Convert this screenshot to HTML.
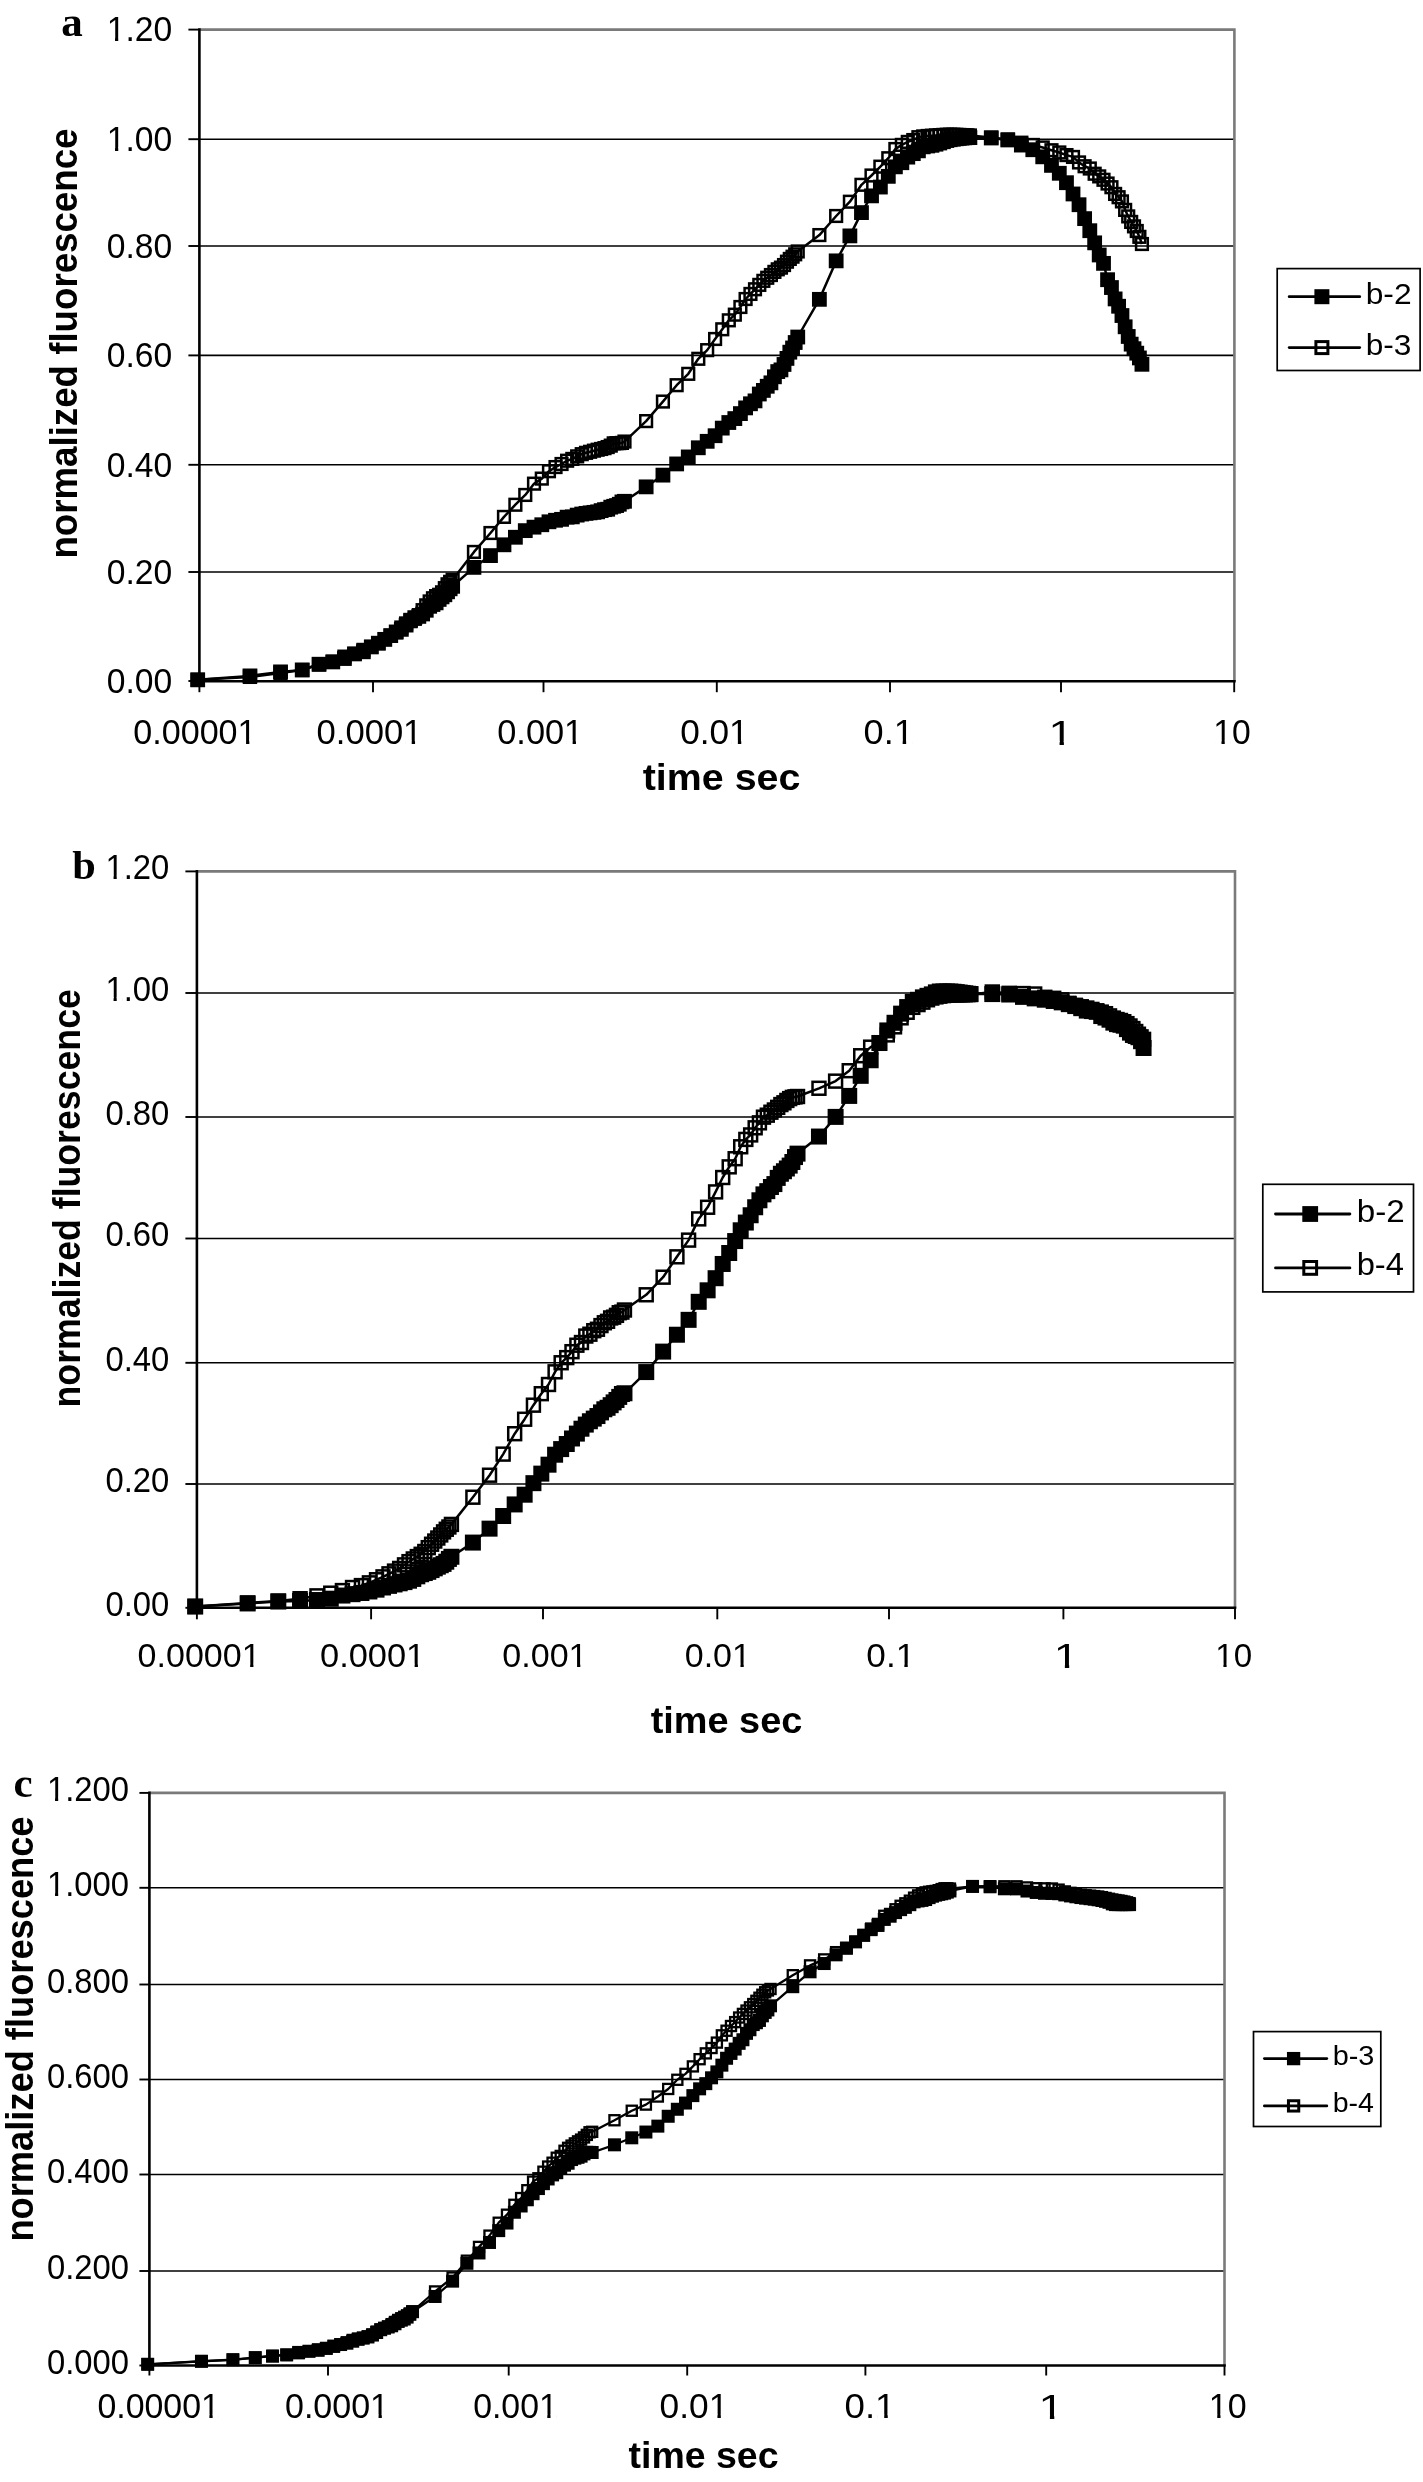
<!DOCTYPE html>
<html><head><meta charset="utf-8"><title>fluorescence</title><style>html,body{margin:0;padding:0;background:#fff;}svg{display:block;filter:grayscale(1);}</style></head><body>
<svg xmlns="http://www.w3.org/2000/svg" width="1423" height="2482" viewBox="0 0 1423 2482">
<rect x="0" y="0" width="1423" height="2482" fill="#fff"/>
<line x1="199.4" y1="572" x2="1234.4" y2="572" stroke="#000" stroke-width="1.6"/>
<line x1="199.4" y1="464.8" x2="1234.4" y2="464.8" stroke="#000" stroke-width="1.6"/>
<line x1="199.4" y1="355.4" x2="1234.4" y2="355.4" stroke="#000" stroke-width="1.6"/>
<line x1="199.4" y1="246" x2="1234.4" y2="246" stroke="#000" stroke-width="1.6"/>
<line x1="199.4" y1="139.2" x2="1234.4" y2="139.2" stroke="#000" stroke-width="1.6"/>
<path d="M199.4 29.6H1234.4V681.2" fill="none" stroke="#7a7a7a" stroke-width="2.6"/>
<line x1="188.4" y1="681" x2="199.4" y2="681" stroke="#000" stroke-width="1.9"/>
<line x1="188.4" y1="572" x2="199.4" y2="572" stroke="#000" stroke-width="1.9"/>
<line x1="188.4" y1="464.8" x2="199.4" y2="464.8" stroke="#000" stroke-width="1.9"/>
<line x1="188.4" y1="355.4" x2="199.4" y2="355.4" stroke="#000" stroke-width="1.9"/>
<line x1="188.4" y1="246" x2="199.4" y2="246" stroke="#000" stroke-width="1.9"/>
<line x1="188.4" y1="139.2" x2="199.4" y2="139.2" stroke="#000" stroke-width="1.9"/>
<line x1="188.4" y1="29.6" x2="199.4" y2="29.6" stroke="#000" stroke-width="1.9"/>
<line x1="199.4" y1="681.2" x2="199.4" y2="692.2" stroke="#000" stroke-width="1.9"/>
<line x1="373" y1="681.2" x2="373" y2="692.2" stroke="#000" stroke-width="1.9"/>
<line x1="543.5" y1="681.2" x2="543.5" y2="692.2" stroke="#000" stroke-width="1.9"/>
<line x1="716.8" y1="681.2" x2="716.8" y2="692.2" stroke="#000" stroke-width="1.9"/>
<line x1="890" y1="681.2" x2="890" y2="692.2" stroke="#000" stroke-width="1.9"/>
<line x1="1061" y1="681.2" x2="1061" y2="692.2" stroke="#000" stroke-width="1.9"/>
<line x1="1234.2" y1="681.2" x2="1234.2" y2="692.2" stroke="#000" stroke-width="1.9"/>
<line x1="199.4" y1="28.3" x2="199.4" y2="682.5" stroke="#000" stroke-width="2.6"/>
<line x1="198.1" y1="681.2" x2="1235.7" y2="681.2" stroke="#000" stroke-width="2.6"/>
<path d="M197.7 679.8 L250.0 675.9 L280.5 671.9 L302.2 669.9 L319.0 664.2 L332.8 661.9 L344.4 658.5 L354.5 653.9 L363.4 651.8 L371.3 646.9 L378.4 643.2 L384.8 639.4 L390.7 635.6 L396.2 631.9 L401.3 629.3 L406.1 625.1 L410.6 620.2 L414.8 617.6 L418.8 616.4 L422.6 614.0 L426.2 610.3 L429.7 606.3 L433.0 604.5 L436.1 602.9 L439.1 599.4 L442.1 596.9 L444.8 594.8 L447.5 591.8 L450.1 588.8 L452.6 586.3 L474.0 567.4 L490.5 555.6 L504.0 544.8 L515.4 537.3 L525.3 530.6 L534.0 527.2 L541.8 524.7 L549.0 521.8 L555.5 520.3 L561.5 519.3 L567.1 517.2 L572.3 516.9 L577.2 515.1 L581.7 514.0 L586.0 513.4 L590.1 512.9 L594.0 512.4 L597.6 511.8 L601.1 510.6 L604.5 509.7 L607.7 509.2 L610.8 507.2 L613.7 506.3 L616.6 505.6 L619.3 504.2 L621.9 501.9 L624.5 501.3 L646.1 486.9 L662.9 475.1 L676.7 463.9 L688.3 456.9 L698.3 447.8 L707.2 441.3 L715.1 435.7 L722.3 428.1 L728.8 422.5 L734.8 418.6 L740.4 413.6 L745.6 407.9 L750.5 403.8 L755.0 400.9 L759.3 394.0 L763.4 390.4 L767.2 386.3 L770.9 382.9 L774.4 376.8 L777.8 371.6 L781.0 369.9 L784.0 364.5 L787.0 358.4 L789.8 352.2 L792.5 348.0 L795.2 342.5 L797.7 337.0 L819.4 299.3 L836.2 260.9 L849.9 235.9 L861.5 212.6 L871.5 195.9 L880.4 187.1 L888.3 176.3 L895.4 166.8 L901.8 162.7 L907.8 157.1 L913.3 153.6 L918.4 150.8 L923.2 146.8 L927.7 146.0 L932.0 145.3 L936.0 144.2 L939.8 143.0 L943.4 141.7 L946.9 140.5 L950.2 139.7 L953.3 139.2 L956.3 138.8 L959.3 138.4 L962.1 138.0 L964.8 137.8 L967.4 137.7 L969.9 137.6 L991.3 138.0 L1007.8 140.0 L1021.4 145.1 L1032.8 149.7 L1042.7 156.8 L1051.5 165.4 L1059.3 173.3 L1066.5 182.7 L1073.0 194.0 L1079.0 204.7 L1084.6 218.6 L1089.8 230.7 L1094.7 242.8 L1099.2 255.0 L1103.5 263.4 L1107.6 279.7 L1111.4 287.5 L1115.1 298.9 L1118.6 306.2 L1122.0 315.5 L1125.2 326.8 L1128.2 336.5 L1131.2 344.1 L1134.0 348.7 L1136.7 353.2 L1139.4 357.9 L1141.9 364.3" fill="none" stroke="#000" stroke-width="2.5" stroke-linejoin="round"/>
<g fill="#000"><rect x="190.3" y="672.43" width="14.8" height="14.8"/><rect x="242.56" y="668.5" width="14.8" height="14.8"/><rect x="273.13" y="664.49" width="14.8" height="14.8"/><rect x="294.82" y="662.53" width="14.8" height="14.8"/><rect x="311.64" y="656.83" width="14.8" height="14.8"/><rect x="325.39" y="654.52" width="14.8" height="14.8"/><rect x="337.01" y="651.13" width="14.8" height="14.8"/><rect x="347.08" y="646.52" width="14.8" height="14.8"/><rect x="355.96" y="644.38" width="14.8" height="14.8"/><rect x="363.9" y="639.51" width="14.8" height="14.8"/><rect x="370.96" y="635.82" width="14.8" height="14.8"/><rect x="377.4" y="631.96" width="14.8" height="14.8"/><rect x="383.33" y="628.2" width="14.8" height="14.8"/><rect x="388.81" y="624.54" width="14.8" height="14.8"/><rect x="393.92" y="621.95" width="14.8" height="14.8"/><rect x="398.7" y="617.69" width="14.8" height="14.8"/><rect x="403.19" y="612.82" width="14.8" height="14.8"/><rect x="407.42" y="610.23" width="14.8" height="14.8"/><rect x="411.43" y="609" width="14.8" height="14.8"/><rect x="415.23" y="606.57" width="14.8" height="14.8"/><rect x="418.84" y="602.86" width="14.8" height="14.8"/><rect x="422.28" y="598.91" width="14.8" height="14.8"/><rect x="425.57" y="597.1" width="14.8" height="14.8"/><rect x="428.73" y="595.45" width="14.8" height="14.8"/><rect x="431.75" y="592.02" width="14.8" height="14.8"/><rect x="434.65" y="589.47" width="14.8" height="14.8"/><rect x="437.45" y="587.39" width="14.8" height="14.8"/><rect x="440.14" y="584.41" width="14.8" height="14.8"/><rect x="442.74" y="581.41" width="14.8" height="14.8"/><rect x="445.25" y="578.94" width="14.8" height="14.8"/><rect x="466.55" y="559.97" width="14.8" height="14.8"/><rect x="483.07" y="548.2" width="14.8" height="14.8"/><rect x="496.57" y="537.4" width="14.8" height="14.8"/><rect x="507.99" y="529.86" width="14.8" height="14.8"/><rect x="517.88" y="523.23" width="14.8" height="14.8"/><rect x="526.6" y="519.77" width="14.8" height="14.8"/><rect x="534.4" y="517.34" width="14.8" height="14.8"/><rect x="541.57" y="514.39" width="14.8" height="14.8"/><rect x="548.12" y="512.87" width="14.8" height="14.8"/><rect x="554.15" y="511.94" width="14.8" height="14.8"/><rect x="559.72" y="509.78" width="14.8" height="14.8"/><rect x="564.92" y="509.46" width="14.8" height="14.8"/><rect x="569.77" y="507.71" width="14.8" height="14.8"/><rect x="574.34" y="506.64" width="14.8" height="14.8"/><rect x="578.64" y="505.97" width="14.8" height="14.8"/><rect x="582.71" y="505.45" width="14.8" height="14.8"/><rect x="586.57" y="504.96" width="14.8" height="14.8"/><rect x="590.24" y="504.43" width="14.8" height="14.8"/><rect x="593.74" y="503.22" width="14.8" height="14.8"/><rect x="597.09" y="502.25" width="14.8" height="14.8"/><rect x="600.29" y="501.84" width="14.8" height="14.8"/><rect x="603.36" y="499.77" width="14.8" height="14.8"/><rect x="606.31" y="498.88" width="14.8" height="14.8"/><rect x="609.16" y="498.16" width="14.8" height="14.8"/><rect x="611.89" y="496.85" width="14.8" height="14.8"/><rect x="614.53" y="494.51" width="14.8" height="14.8"/><rect x="617.09" y="493.9" width="14.8" height="14.8"/><rect x="638.74" y="479.46" width="14.8" height="14.8"/><rect x="655.53" y="467.73" width="14.8" height="14.8"/><rect x="669.25" y="456.53" width="14.8" height="14.8"/><rect x="680.86" y="449.54" width="14.8" height="14.8"/><rect x="690.91" y="440.38" width="14.8" height="14.8"/><rect x="699.77" y="433.92" width="14.8" height="14.8"/><rect x="707.7" y="428.32" width="14.8" height="14.8"/><rect x="714.87" y="420.72" width="14.8" height="14.8"/><rect x="721.41" y="415.12" width="14.8" height="14.8"/><rect x="727.43" y="411.18" width="14.8" height="14.8"/><rect x="733.01" y="406.19" width="14.8" height="14.8"/><rect x="738.2" y="400.49" width="14.8" height="14.8"/><rect x="743.05" y="396.38" width="14.8" height="14.8"/><rect x="747.61" y="393.48" width="14.8" height="14.8"/><rect x="751.91" y="386.61" width="14.8" height="14.8"/><rect x="755.98" y="383.01" width="14.8" height="14.8"/><rect x="759.84" y="378.87" width="14.8" height="14.8"/><rect x="763.51" y="375.45" width="14.8" height="14.8"/><rect x="767.01" y="369.39" width="14.8" height="14.8"/><rect x="770.35" y="364.18" width="14.8" height="14.8"/><rect x="773.55" y="362.48" width="14.8" height="14.8"/><rect x="776.62" y="357.05" width="14.8" height="14.8"/><rect x="779.57" y="351" width="14.8" height="14.8"/><rect x="782.41" y="344.79" width="14.8" height="14.8"/><rect x="785.15" y="340.57" width="14.8" height="14.8"/><rect x="787.79" y="335.11" width="14.8" height="14.8"/><rect x="790.34" y="329.63" width="14.8" height="14.8"/><rect x="811.98" y="291.94" width="14.8" height="14.8"/><rect x="828.76" y="253.46" width="14.8" height="14.8"/><rect x="842.48" y="228.49" width="14.8" height="14.8"/><rect x="854.07" y="205.19" width="14.8" height="14.8"/><rect x="864.12" y="188.46" width="14.8" height="14.8"/><rect x="872.97" y="179.65" width="14.8" height="14.8"/><rect x="880.9" y="168.94" width="14.8" height="14.8"/><rect x="887.98" y="159.44" width="14.8" height="14.8"/><rect x="894.44" y="155.33" width="14.8" height="14.8"/><rect x="900.38" y="149.73" width="14.8" height="14.8"/><rect x="905.89" y="146.24" width="14.8" height="14.8"/><rect x="911.01" y="143.43" width="14.8" height="14.8"/><rect x="915.8" y="139.44" width="14.8" height="14.8"/><rect x="920.31" y="138.58" width="14.8" height="14.8"/><rect x="924.55" y="137.91" width="14.8" height="14.8"/><rect x="928.57" y="136.8" width="14.8" height="14.8"/><rect x="932.38" y="135.61" width="14.8" height="14.8"/><rect x="936" y="134.34" width="14.8" height="14.8"/><rect x="939.45" y="133.13" width="14.8" height="14.8"/><rect x="942.76" y="132.34" width="14.8" height="14.8"/><rect x="945.92" y="131.82" width="14.8" height="14.8"/><rect x="948.95" y="131.36" width="14.8" height="14.8"/><rect x="951.86" y="130.96" width="14.8" height="14.8"/><rect x="954.66" y="130.65" width="14.8" height="14.8"/><rect x="957.36" y="130.41" width="14.8" height="14.8"/><rect x="959.97" y="130.26" width="14.8" height="14.8"/><rect x="962.49" y="130.2" width="14.8" height="14.8"/><rect x="983.85" y="130.59" width="14.8" height="14.8"/><rect x="1000.42" y="132.55" width="14.8" height="14.8"/><rect x="1013.96" y="137.67" width="14.8" height="14.8"/><rect x="1025.41" y="142.33" width="14.8" height="14.8"/><rect x="1035.33" y="149.42" width="14.8" height="14.8"/><rect x="1044.08" y="157.97" width="14.8" height="14.8"/><rect x="1051.9" y="165.87" width="14.8" height="14.8"/><rect x="1059.07" y="175.3" width="14.8" height="14.8"/><rect x="1065.61" y="186.57" width="14.8" height="14.8"/><rect x="1071.63" y="197.33" width="14.8" height="14.8"/><rect x="1077.21" y="211.23" width="14.8" height="14.8"/><rect x="1082.4" y="223.3" width="14.8" height="14.8"/><rect x="1087.25" y="235.44" width="14.8" height="14.8"/><rect x="1091.81" y="247.57" width="14.8" height="14.8"/><rect x="1096.11" y="255.96" width="14.8" height="14.8"/><rect x="1100.18" y="272.31" width="14.8" height="14.8"/><rect x="1104.04" y="280.14" width="14.8" height="14.8"/><rect x="1107.71" y="291.52" width="14.8" height="14.8"/><rect x="1111.21" y="298.84" width="14.8" height="14.8"/><rect x="1114.55" y="308.13" width="14.8" height="14.8"/><rect x="1117.75" y="319.4" width="14.8" height="14.8"/><rect x="1120.82" y="329.07" width="14.8" height="14.8"/><rect x="1123.77" y="336.75" width="14.8" height="14.8"/><rect x="1126.61" y="341.31" width="14.8" height="14.8"/><rect x="1129.35" y="345.77" width="14.8" height="14.8"/><rect x="1131.99" y="350.54" width="14.8" height="14.8"/><rect x="1134.54" y="356.89" width="14.8" height="14.8"/></g>
<path d="M197.7 679.8 L250.0 676.9 L280.5 672.9 L302.2 670.0 L319.0 664.5 L332.8 661.7 L344.4 656.6 L354.5 653.8 L363.4 649.9 L371.3 646.9 L378.4 643.1 L384.8 639.1 L390.7 635.8 L396.2 632.4 L401.3 627.5 L406.1 623.4 L410.6 621.2 L414.8 618.8 L418.8 615.1 L422.6 610.2 L426.2 605.4 L429.7 601.4 L433.0 598.3 L436.1 596.1 L439.1 594.8 L442.1 592.3 L444.8 588.2 L447.5 584.3 L450.1 581.8 L452.6 579.8 L474.0 551.9 L490.5 533.0 L504.0 516.9 L515.4 504.7 L525.3 494.9 L534.0 483.7 L541.8 478.6 L549.0 471.2 L555.5 467.1 L561.5 464.0 L567.1 460.7 L572.3 458.9 L577.2 456.4 L581.7 454.2 L586.0 452.8 L590.1 451.8 L594.0 450.7 L597.6 449.7 L601.1 449.0 L604.5 448.2 L607.7 447.1 L610.8 445.6 L613.7 443.4 L616.6 443.2 L619.3 443.1 L621.9 442.9 L624.5 441.6 L646.1 421.1 L662.9 401.6 L676.7 385.2 L688.3 373.8 L698.3 358.8 L707.2 350.1 L715.1 339.0 L722.3 329.3 L728.8 320.3 L734.8 314.7 L740.4 307.0 L745.6 299.0 L750.5 293.9 L755.0 289.3 L759.3 284.9 L763.4 280.9 L767.2 277.8 L770.9 275.0 L774.4 271.9 L777.8 269.3 L781.0 267.6 L784.0 265.0 L787.0 261.7 L789.8 258.9 L792.5 256.7 L795.2 254.3 L797.7 251.5 L819.4 235.1 L836.2 216.0 L849.9 201.7 L861.5 184.8 L871.5 175.5 L880.4 166.7 L888.3 158.2 L895.4 149.0 L901.8 144.9 L907.8 141.9 L913.3 140.0 L918.4 137.2 L923.2 136.4 L927.7 136.0 L932.0 135.7 L936.0 135.4 L939.8 135.1 L943.4 134.9 L946.9 134.7 L950.2 134.7 L953.3 134.7 L956.3 134.8 L959.3 134.9 L962.1 135.1 L964.8 135.2 L967.4 135.3 L969.9 135.5 L991.3 137.5 L1007.8 139.5 L1021.4 142.7 L1032.8 144.9 L1042.7 147.5 L1051.5 150.2 L1059.3 152.5 L1066.5 155.1 L1073.0 156.9 L1079.0 162.4 L1084.6 166.2 L1089.8 168.5 L1094.7 173.7 L1099.2 176.4 L1103.5 179.8 L1107.6 183.5 L1111.4 187.2 L1115.1 193.9 L1118.6 197.2 L1122.0 201.4 L1125.2 209.9 L1128.2 216.4 L1131.2 221.9 L1134.0 226.4 L1136.7 231.0 L1139.4 236.8 L1141.9 244.0" fill="none" stroke="#000" stroke-width="2.5" stroke-linejoin="round"/>
<g fill="none" stroke="#000" stroke-width="2.5"><rect x="191.85" y="673.95" width="11.7" height="11.7"/><rect x="244.11" y="671.07" width="11.7" height="11.7"/><rect x="274.68" y="667.02" width="11.7" height="11.7"/><rect x="296.37" y="664.19" width="11.7" height="11.7"/><rect x="313.19" y="658.7" width="11.7" height="11.7"/><rect x="326.94" y="655.85" width="11.7" height="11.7"/><rect x="338.56" y="650.78" width="11.7" height="11.7"/><rect x="348.63" y="647.98" width="11.7" height="11.7"/><rect x="357.51" y="644.03" width="11.7" height="11.7"/><rect x="365.45" y="641.06" width="11.7" height="11.7"/><rect x="372.51" y="637.24" width="11.7" height="11.7"/><rect x="378.95" y="633.28" width="11.7" height="11.7"/><rect x="384.88" y="629.98" width="11.7" height="11.7"/><rect x="390.36" y="626.51" width="11.7" height="11.7"/><rect x="395.47" y="621.65" width="11.7" height="11.7"/><rect x="400.25" y="617.57" width="11.7" height="11.7"/><rect x="404.74" y="615.33" width="11.7" height="11.7"/><rect x="408.97" y="612.98" width="11.7" height="11.7"/><rect x="412.98" y="609.28" width="11.7" height="11.7"/><rect x="416.78" y="604.33" width="11.7" height="11.7"/><rect x="420.39" y="599.5" width="11.7" height="11.7"/><rect x="423.83" y="595.59" width="11.7" height="11.7"/><rect x="427.12" y="592.41" width="11.7" height="11.7"/><rect x="430.28" y="590.24" width="11.7" height="11.7"/><rect x="433.3" y="588.93" width="11.7" height="11.7"/><rect x="436.2" y="586.48" width="11.7" height="11.7"/><rect x="439" y="582.31" width="11.7" height="11.7"/><rect x="441.69" y="578.45" width="11.7" height="11.7"/><rect x="444.29" y="575.97" width="11.7" height="11.7"/><rect x="446.8" y="573.91" width="11.7" height="11.7"/><rect x="468.1" y="546.07" width="11.7" height="11.7"/><rect x="484.62" y="527.16" width="11.7" height="11.7"/><rect x="498.12" y="511.04" width="11.7" height="11.7"/><rect x="509.54" y="498.89" width="11.7" height="11.7"/><rect x="519.43" y="489.1" width="11.7" height="11.7"/><rect x="528.15" y="477.81" width="11.7" height="11.7"/><rect x="535.95" y="472.75" width="11.7" height="11.7"/><rect x="543.12" y="465.37" width="11.7" height="11.7"/><rect x="549.67" y="461.21" width="11.7" height="11.7"/><rect x="555.7" y="458.15" width="11.7" height="11.7"/><rect x="561.27" y="454.87" width="11.7" height="11.7"/><rect x="566.47" y="453.06" width="11.7" height="11.7"/><rect x="571.32" y="450.52" width="11.7" height="11.7"/><rect x="575.89" y="448.32" width="11.7" height="11.7"/><rect x="580.19" y="446.98" width="11.7" height="11.7"/><rect x="584.26" y="445.93" width="11.7" height="11.7"/><rect x="588.12" y="444.83" width="11.7" height="11.7"/><rect x="591.79" y="443.87" width="11.7" height="11.7"/><rect x="595.29" y="443.12" width="11.7" height="11.7"/><rect x="598.64" y="442.3" width="11.7" height="11.7"/><rect x="601.84" y="441.21" width="11.7" height="11.7"/><rect x="604.91" y="439.78" width="11.7" height="11.7"/><rect x="607.86" y="437.51" width="11.7" height="11.7"/><rect x="610.71" y="437.32" width="11.7" height="11.7"/><rect x="613.44" y="437.26" width="11.7" height="11.7"/><rect x="616.08" y="437.06" width="11.7" height="11.7"/><rect x="618.64" y="435.71" width="11.7" height="11.7"/><rect x="640.29" y="415.26" width="11.7" height="11.7"/><rect x="657.08" y="395.71" width="11.7" height="11.7"/><rect x="670.8" y="379.35" width="11.7" height="11.7"/><rect x="682.41" y="367.99" width="11.7" height="11.7"/><rect x="692.46" y="352.94" width="11.7" height="11.7"/><rect x="701.32" y="344.29" width="11.7" height="11.7"/><rect x="709.25" y="333.13" width="11.7" height="11.7"/><rect x="716.42" y="323.44" width="11.7" height="11.7"/><rect x="722.96" y="314.47" width="11.7" height="11.7"/><rect x="728.98" y="308.82" width="11.7" height="11.7"/><rect x="734.56" y="301.14" width="11.7" height="11.7"/><rect x="739.75" y="293.16" width="11.7" height="11.7"/><rect x="744.6" y="288.09" width="11.7" height="11.7"/><rect x="749.16" y="283.41" width="11.7" height="11.7"/><rect x="753.46" y="279.03" width="11.7" height="11.7"/><rect x="757.53" y="275" width="11.7" height="11.7"/><rect x="761.39" y="271.91" width="11.7" height="11.7"/><rect x="765.06" y="269.19" width="11.7" height="11.7"/><rect x="768.56" y="266.03" width="11.7" height="11.7"/><rect x="771.9" y="263.47" width="11.7" height="11.7"/><rect x="775.1" y="261.78" width="11.7" height="11.7"/><rect x="778.17" y="259.19" width="11.7" height="11.7"/><rect x="781.12" y="255.85" width="11.7" height="11.7"/><rect x="783.96" y="253.07" width="11.7" height="11.7"/><rect x="786.7" y="250.83" width="11.7" height="11.7"/><rect x="789.34" y="248.46" width="11.7" height="11.7"/><rect x="791.89" y="245.62" width="11.7" height="11.7"/><rect x="813.53" y="229.22" width="11.7" height="11.7"/><rect x="830.31" y="210.13" width="11.7" height="11.7"/><rect x="844.03" y="195.87" width="11.7" height="11.7"/><rect x="855.62" y="178.95" width="11.7" height="11.7"/><rect x="865.67" y="169.65" width="11.7" height="11.7"/><rect x="874.52" y="160.8" width="11.7" height="11.7"/><rect x="882.45" y="152.39" width="11.7" height="11.7"/><rect x="889.53" y="143.16" width="11.7" height="11.7"/><rect x="895.99" y="139.03" width="11.7" height="11.7"/><rect x="901.93" y="136.06" width="11.7" height="11.7"/><rect x="907.44" y="134.19" width="11.7" height="11.7"/><rect x="912.56" y="131.35" width="11.7" height="11.7"/><rect x="917.35" y="130.54" width="11.7" height="11.7"/><rect x="921.86" y="130.13" width="11.7" height="11.7"/><rect x="926.1" y="129.85" width="11.7" height="11.7"/><rect x="930.12" y="129.58" width="11.7" height="11.7"/><rect x="933.93" y="129.29" width="11.7" height="11.7"/><rect x="937.55" y="129.05" width="11.7" height="11.7"/><rect x="941" y="128.89" width="11.7" height="11.7"/><rect x="944.31" y="128.85" width="11.7" height="11.7"/><rect x="947.47" y="128.89" width="11.7" height="11.7"/><rect x="950.5" y="128.97" width="11.7" height="11.7"/><rect x="953.41" y="129.08" width="11.7" height="11.7"/><rect x="956.21" y="129.21" width="11.7" height="11.7"/><rect x="958.91" y="129.34" width="11.7" height="11.7"/><rect x="961.52" y="129.48" width="11.7" height="11.7"/><rect x="964.04" y="129.62" width="11.7" height="11.7"/><rect x="985.4" y="131.66" width="11.7" height="11.7"/><rect x="1001.97" y="133.61" width="11.7" height="11.7"/><rect x="1015.51" y="136.84" width="11.7" height="11.7"/><rect x="1026.96" y="139.09" width="11.7" height="11.7"/><rect x="1036.88" y="141.61" width="11.7" height="11.7"/><rect x="1045.63" y="144.39" width="11.7" height="11.7"/><rect x="1053.45" y="146.62" width="11.7" height="11.7"/><rect x="1060.62" y="149.23" width="11.7" height="11.7"/><rect x="1067.16" y="151.09" width="11.7" height="11.7"/><rect x="1073.18" y="156.59" width="11.7" height="11.7"/><rect x="1078.76" y="160.39" width="11.7" height="11.7"/><rect x="1083.95" y="162.66" width="11.7" height="11.7"/><rect x="1088.8" y="167.88" width="11.7" height="11.7"/><rect x="1093.36" y="170.54" width="11.7" height="11.7"/><rect x="1097.66" y="173.92" width="11.7" height="11.7"/><rect x="1101.73" y="177.68" width="11.7" height="11.7"/><rect x="1105.59" y="181.37" width="11.7" height="11.7"/><rect x="1109.26" y="188.07" width="11.7" height="11.7"/><rect x="1112.76" y="191.36" width="11.7" height="11.7"/><rect x="1116.1" y="195.56" width="11.7" height="11.7"/><rect x="1119.3" y="204.05" width="11.7" height="11.7"/><rect x="1122.37" y="210.55" width="11.7" height="11.7"/><rect x="1125.32" y="216.06" width="11.7" height="11.7"/><rect x="1128.16" y="220.52" width="11.7" height="11.7"/><rect x="1130.9" y="225.14" width="11.7" height="11.7"/><rect x="1133.54" y="230.98" width="11.7" height="11.7"/><rect x="1136.09" y="238.16" width="11.7" height="11.7"/></g>
<g transform="translate(106.68 692.77) scale(33.6694 34.1804)"><text x="0" y="0" font-family='"Liberation Sans", sans-serif' font-weight="normal" font-size="1" style="font-kerning:none">0.00</text></g>
<g transform="translate(106.68 583.77) scale(33.6694 34.1804)"><text x="0" y="0" font-family='"Liberation Sans", sans-serif' font-weight="normal" font-size="1" style="font-kerning:none">0.20</text></g>
<g transform="translate(106.68 476.57) scale(33.6694 34.1804)"><text x="0" y="0" font-family='"Liberation Sans", sans-serif' font-weight="normal" font-size="1" style="font-kerning:none">0.40</text></g>
<g transform="translate(106.68 367.17) scale(33.6694 34.1804)"><text x="0" y="0" font-family='"Liberation Sans", sans-serif' font-weight="normal" font-size="1" style="font-kerning:none">0.60</text></g>
<g transform="translate(106.68 257.77) scale(33.6694 34.1804)"><text x="0" y="0" font-family='"Liberation Sans", sans-serif' font-weight="normal" font-size="1" style="font-kerning:none">0.80</text></g>
<g transform="translate(106.68 150.97) scale(33.6694 34.1804)"><text x="0" y="0" font-family='"Liberation Sans", sans-serif' font-weight="normal" font-size="1" style="font-kerning:none">1.00</text><rect x="0.0562" y="-0.1050" width="0.1913" height="0.1300" fill="#fff"/><rect x="0.3438" y="-0.1050" width="0.1835" height="0.1300" fill="#fff"/></g>
<g transform="translate(106.68 41.37) scale(33.6694 34.1804)"><text x="0" y="0" font-family='"Liberation Sans", sans-serif' font-weight="normal" font-size="1" style="font-kerning:none">1.20</text><rect x="0.0562" y="-0.1050" width="0.1913" height="0.1300" fill="#fff"/><rect x="0.3438" y="-0.1050" width="0.1835" height="0.1300" fill="#fff"/></g>
<g transform="translate(133.27 744.16) scale(34.1135 34.6041)"><text x="0" y="0" font-family='"Liberation Sans", sans-serif' font-weight="normal" font-size="1" style="font-kerning:none">0.00001</text><rect x="3.1148" y="-0.1050" width="0.1913" height="0.1300" fill="#fff"/><rect x="3.4024" y="-0.1050" width="0.1835" height="0.1300" fill="#fff"/></g>
<g transform="translate(316.55 744.16) scale(34.6030 34.6041)"><text x="0" y="0" font-family='"Liberation Sans", sans-serif' font-weight="normal" font-size="1" style="font-kerning:none">0.0001</text><rect x="2.5586" y="-0.1050" width="0.1913" height="0.1300" fill="#fff"/><rect x="2.8463" y="-0.1050" width="0.1835" height="0.1300" fill="#fff"/></g>
<g transform="translate(497.26 744.16) scale(34.3558 34.6041)"><text x="0" y="0" font-family='"Liberation Sans", sans-serif' font-weight="normal" font-size="1" style="font-kerning:none">0.001</text><rect x="2.0025" y="-0.1050" width="0.1913" height="0.1300" fill="#fff"/><rect x="2.2901" y="-0.1050" width="0.1835" height="0.1300" fill="#fff"/></g>
<g transform="translate(680.23 744.16) scale(35.1880 34.6041)"><text x="0" y="0" font-family='"Liberation Sans", sans-serif' font-weight="normal" font-size="1" style="font-kerning:none">0.01</text><rect x="1.4463" y="-0.1050" width="0.1913" height="0.1300" fill="#fff"/><rect x="1.7340" y="-0.1050" width="0.1835" height="0.1300" fill="#fff"/></g>
<g transform="translate(863.59 744.16) scale(36.1308 34.6041)"><text x="0" y="0" font-family='"Liberation Sans", sans-serif' font-weight="normal" font-size="1" style="font-kerning:none">0.1</text><rect x="0.8902" y="-0.1050" width="0.1913" height="0.1300" fill="#fff"/><rect x="1.1778" y="-0.1050" width="0.1835" height="0.1300" fill="#fff"/></g>
<g transform="translate(1048.5 744.5) scale(44.7359 35.6111)"><text x="0" y="0" font-family='"Liberation Sans", sans-serif' font-weight="normal" font-size="1" style="font-kerning:none">1</text><rect x="0.0562" y="-0.1050" width="0.1913" height="0.1300" fill="#fff"/><rect x="0.3438" y="-0.1050" width="0.1835" height="0.1300" fill="#fff"/></g>
<g transform="translate(1213.16 744.16) scale(33.6728 34.6041)"><text x="0" y="0" font-family='"Liberation Sans", sans-serif' font-weight="normal" font-size="1" style="font-kerning:none">10</text><rect x="0.0562" y="-0.1050" width="0.1913" height="0.1300" fill="#fff"/><rect x="0.3438" y="-0.1050" width="0.1835" height="0.1300" fill="#fff"/></g>
<g transform="translate(642.72 790.24) scale(39.3846 37.3106)"><text x="0" y="0" font-family='"Liberation Sans", sans-serif' font-weight="bold" font-size="1" style="font-kerning:none">time sec</text></g>
<g transform="translate(77.13 558.62) rotate(-90) scale(36.6851 38.1277)"><text x="0" y="0" font-family='"Liberation Sans", sans-serif' font-weight="bold" font-size="1" style="font-kerning:none">normalized fluorescence</text></g>
<g transform="translate(61.21 35.99) scale(43.0809 41.9621)"><text x="0" y="0" font-family='"Liberation Serif", serif' font-weight="bold" font-size="1" style="font-kerning:none">a</text></g>
<rect x="1277.2" y="268.6" width="142.9" height="101.9" fill="#fff" stroke="#000" stroke-width="1.7"/>
<line x1="1289.2" y1="296.7" x2="1359.7" y2="296.7" stroke="#000" stroke-width="2.8" stroke-linecap="round"/>
<g fill="#000"><rect x="1314.4" y="289.2" width="15" height="15"/></g>
<g transform="translate(1365.65 303.81) scale(31.7910 29.6851)"><text x="0" y="0" font-family='"Liberation Sans", sans-serif' font-weight="normal" font-size="1" style="font-kerning:none">b-2</text></g>
<line x1="1289.2" y1="347.6" x2="1359.7" y2="347.6" stroke="#000" stroke-width="2.8" stroke-linecap="round"/>
<g fill="none" stroke="#000" stroke-width="3"><rect x="1315.9" y="341.6" width="12" height="12"/></g>
<g transform="translate(1365.66 354.71) scale(31.6400 29.5489)"><text x="0" y="0" font-family='"Liberation Sans", sans-serif' font-weight="normal" font-size="1" style="font-kerning:none">b-3</text></g>
<line x1="196.9" y1="1484" x2="1235" y2="1484" stroke="#000" stroke-width="1.6"/>
<line x1="196.9" y1="1362.8" x2="1235" y2="1362.8" stroke="#000" stroke-width="1.6"/>
<line x1="196.9" y1="1238.5" x2="1235" y2="1238.5" stroke="#000" stroke-width="1.6"/>
<line x1="196.9" y1="1117" x2="1235" y2="1117" stroke="#000" stroke-width="1.6"/>
<line x1="196.9" y1="993" x2="1235" y2="993" stroke="#000" stroke-width="1.6"/>
<path d="M196.9 871.4H1235V1607.8" fill="none" stroke="#7a7a7a" stroke-width="2.6"/>
<line x1="185.4" y1="1607.8" x2="196.9" y2="1607.8" stroke="#000" stroke-width="1.9"/>
<line x1="185.4" y1="1484" x2="196.9" y2="1484" stroke="#000" stroke-width="1.9"/>
<line x1="185.4" y1="1362.8" x2="196.9" y2="1362.8" stroke="#000" stroke-width="1.9"/>
<line x1="185.4" y1="1238.5" x2="196.9" y2="1238.5" stroke="#000" stroke-width="1.9"/>
<line x1="185.4" y1="1117" x2="196.9" y2="1117" stroke="#000" stroke-width="1.9"/>
<line x1="185.4" y1="993" x2="196.9" y2="993" stroke="#000" stroke-width="1.9"/>
<line x1="185.4" y1="871.4" x2="196.9" y2="871.4" stroke="#000" stroke-width="1.9"/>
<line x1="196.9" y1="1607.8" x2="196.9" y2="1619.3" stroke="#000" stroke-width="1.9"/>
<line x1="371.1" y1="1607.8" x2="371.1" y2="1619.3" stroke="#000" stroke-width="1.9"/>
<line x1="543" y1="1607.8" x2="543" y2="1619.3" stroke="#000" stroke-width="1.9"/>
<line x1="717.3" y1="1607.8" x2="717.3" y2="1619.3" stroke="#000" stroke-width="1.9"/>
<line x1="889" y1="1607.8" x2="889" y2="1619.3" stroke="#000" stroke-width="1.9"/>
<line x1="1063.4" y1="1607.8" x2="1063.4" y2="1619.3" stroke="#000" stroke-width="1.9"/>
<line x1="1235" y1="1607.8" x2="1235" y2="1619.3" stroke="#000" stroke-width="1.9"/>
<line x1="196.9" y1="870.1" x2="196.9" y2="1609.1" stroke="#000" stroke-width="2.6"/>
<line x1="195.6" y1="1607.8" x2="1236.3" y2="1607.8" stroke="#000" stroke-width="2.6"/>
<path d="M195.2 1606.5 L247.6 1603.4 L278.3 1601.5 L300.1 1600.9 L317.0 1600.0 L330.8 1598.7 L342.4 1595.6 L352.5 1594.2 L361.4 1593.0 L369.4 1591.5 L376.5 1589.7 L383.0 1587.5 L389.0 1585.9 L394.5 1584.5 L399.7 1583.3 L404.5 1582.1 L409.0 1580.7 L413.3 1578.9 L417.3 1576.3 L421.1 1574.2 L424.8 1573.0 L428.3 1571.8 L431.6 1570.1 L434.8 1568.3 L437.8 1566.7 L440.7 1565.2 L443.6 1563.9 L446.3 1561.7 L448.9 1558.9 L451.4 1556.8 L472.9 1542.6 L489.6 1528.6 L503.2 1516.0 L514.7 1504.4 L524.6 1494.7 L533.4 1483.2 L541.3 1473.6 L548.5 1464.7 L555.1 1454.7 L561.2 1449.1 L566.8 1444.0 L572.0 1438.5 L576.9 1433.6 L581.5 1428.7 L585.8 1424.6 L589.9 1421.3 L593.8 1418.6 L597.5 1416.0 L601.0 1412.4 L604.3 1409.3 L607.6 1407.8 L610.7 1405.2 L613.6 1402.4 L616.5 1400.0 L619.2 1396.9 L621.9 1394.0 L624.5 1393.3 L646.2 1372.1 L663.1 1351.6 L676.9 1334.7 L688.6 1319.8 L698.7 1301.8 L707.6 1290.3 L715.6 1278.2 L722.7 1264.0 L729.2 1253.0 L735.2 1241.1 L740.7 1230.3 L745.8 1222.5 L750.6 1215.2 L755.2 1207.2 L759.4 1200.3 L763.5 1194.4 L767.3 1191.1 L770.9 1187.0 L774.4 1184.1 L777.7 1177.9 L780.9 1173.8 L783.9 1171.2 L786.9 1168.5 L789.7 1165.6 L792.4 1162.0 L795.0 1157.1 L797.5 1153.6 L819.0 1136.5 L835.6 1116.9 L849.2 1095.9 L860.7 1075.8 L870.7 1060.3 L879.4 1043.0 L887.3 1030.4 L894.5 1022.8 L901.1 1013.6 L907.2 1007.1 L912.8 1001.9 L918.0 999.8 L922.9 997.4 L927.5 995.8 L931.8 994.4 L935.9 992.4 L939.8 991.5 L943.5 991.5 L947.0 991.5 L950.4 991.5 L953.6 991.8 L956.7 992.1 L959.7 992.6 L962.5 992.9 L965.3 993.3 L967.9 993.8 L970.5 994.0 L992.3 994.1 L1009.2 994.5 L1023.0 996.9 L1034.7 998.4 L1044.8 999.7 L1053.7 1001.0 L1061.7 1002.4 L1068.8 1004.2 L1075.3 1006.1 L1081.3 1008.2 L1086.8 1010.6 L1091.9 1011.1 L1096.7 1011.8 L1101.2 1016.1 L1105.5 1017.6 L1109.5 1019.7 L1113.4 1022.6 L1117.0 1024.1 L1120.5 1024.8 L1123.8 1025.7 L1126.9 1029.1 L1130.0 1032.6 L1132.9 1035.0 L1135.7 1036.0 L1138.4 1037.2 L1141.0 1041.2 L1143.6 1048.0" fill="none" stroke="#000" stroke-width="2.5" stroke-linejoin="round"/>
<g fill="#000"><rect x="187.2" y="1598.48" width="16" height="16"/><rect x="239.64" y="1595.45" width="16" height="16"/><rect x="270.31" y="1593.52" width="16" height="16"/><rect x="292.08" y="1592.9" width="16" height="16"/><rect x="308.96" y="1592.03" width="16" height="16"/><rect x="322.75" y="1590.7" width="16" height="16"/><rect x="334.42" y="1587.55" width="16" height="16"/><rect x="344.52" y="1586.18" width="16" height="16"/><rect x="353.43" y="1585.01" width="16" height="16"/><rect x="361.4" y="1583.46" width="16" height="16"/><rect x="368.52" y="1581.66" width="16" height="16"/><rect x="375.01" y="1579.5" width="16" height="16"/><rect x="380.99" y="1577.87" width="16" height="16"/><rect x="386.52" y="1576.47" width="16" height="16"/><rect x="391.67" y="1575.3" width="16" height="16"/><rect x="396.49" y="1574.1" width="16" height="16"/><rect x="401.01" y="1572.7" width="16" height="16"/><rect x="405.28" y="1570.92" width="16" height="16"/><rect x="409.32" y="1568.32" width="16" height="16"/><rect x="413.15" y="1566.23" width="16" height="16"/><rect x="416.79" y="1565.04" width="16" height="16"/><rect x="420.26" y="1563.83" width="16" height="16"/><rect x="423.58" y="1562.08" width="16" height="16"/><rect x="426.76" y="1560.34" width="16" height="16"/><rect x="429.81" y="1558.68" width="16" height="16"/><rect x="432.73" y="1557.24" width="16" height="16"/><rect x="435.55" y="1555.89" width="16" height="16"/><rect x="438.27" y="1553.71" width="16" height="16"/><rect x="440.89" y="1550.92" width="16" height="16"/><rect x="443.42" y="1548.76" width="16" height="16"/><rect x="464.89" y="1534.58" width="16" height="16"/><rect x="481.55" y="1520.65" width="16" height="16"/><rect x="495.16" y="1508.01" width="16" height="16"/><rect x="506.67" y="1496.43" width="16" height="16"/><rect x="516.64" y="1486.7" width="16" height="16"/><rect x="525.43" y="1475.16" width="16" height="16"/><rect x="533.3" y="1465.63" width="16" height="16"/><rect x="540.51" y="1456.68" width="16" height="16"/><rect x="547.1" y="1446.71" width="16" height="16"/><rect x="553.16" y="1441.09" width="16" height="16"/><rect x="558.77" y="1436.01" width="16" height="16"/><rect x="563.99" y="1430.49" width="16" height="16"/><rect x="568.88" y="1425.61" width="16" height="16"/><rect x="573.47" y="1420.71" width="16" height="16"/><rect x="577.79" y="1416.59" width="16" height="16"/><rect x="581.89" y="1413.26" width="16" height="16"/><rect x="585.77" y="1410.62" width="16" height="16"/><rect x="589.46" y="1408.04" width="16" height="16"/><rect x="592.98" y="1404.42" width="16" height="16"/><rect x="596.35" y="1401.29" width="16" height="16"/><rect x="599.57" y="1399.79" width="16" height="16"/><rect x="602.66" y="1397.17" width="16" height="16"/><rect x="605.63" y="1394.39" width="16" height="16"/><rect x="608.49" y="1391.97" width="16" height="16"/><rect x="611.24" y="1388.9" width="16" height="16"/><rect x="613.9" y="1385.98" width="16" height="16"/><rect x="616.46" y="1385.27" width="16" height="16"/><rect x="638.24" y="1364.08" width="16" height="16"/><rect x="655.13" y="1343.61" width="16" height="16"/><rect x="668.93" y="1326.73" width="16" height="16"/><rect x="680.6" y="1311.84" width="16" height="16"/><rect x="690.71" y="1293.82" width="16" height="16"/><rect x="699.62" y="1282.32" width="16" height="16"/><rect x="707.6" y="1270.21" width="16" height="16"/><rect x="714.71" y="1255.96" width="16" height="16"/><rect x="721.2" y="1245.01" width="16" height="16"/><rect x="727.16" y="1233.06" width="16" height="16"/><rect x="732.69" y="1222.3" width="16" height="16"/><rect x="737.83" y="1214.55" width="16" height="16"/><rect x="742.65" y="1207.25" width="16" height="16"/><rect x="747.17" y="1199.24" width="16" height="16"/><rect x="751.43" y="1192.28" width="16" height="16"/><rect x="755.46" y="1186.38" width="16" height="16"/><rect x="759.29" y="1183.14" width="16" height="16"/><rect x="762.93" y="1179" width="16" height="16"/><rect x="766.39" y="1176.09" width="16" height="16"/><rect x="769.71" y="1169.89" width="16" height="16"/><rect x="772.88" y="1165.76" width="16" height="16"/><rect x="775.93" y="1163.24" width="16" height="16"/><rect x="778.85" y="1160.5" width="16" height="16"/><rect x="781.67" y="1157.61" width="16" height="16"/><rect x="784.38" y="1154.01" width="16" height="16"/><rect x="786.99" y="1149.06" width="16" height="16"/><rect x="789.52" y="1145.64" width="16" height="16"/><rect x="810.97" y="1128.54" width="16" height="16"/><rect x="827.61" y="1108.89" width="16" height="16"/><rect x="841.21" y="1087.91" width="16" height="16"/><rect x="852.7" y="1067.83" width="16" height="16"/><rect x="862.66" y="1052.25" width="16" height="16"/><rect x="871.44" y="1035.02" width="16" height="16"/><rect x="879.3" y="1022.44" width="16" height="16"/><rect x="886.52" y="1014.78" width="16" height="16"/><rect x="893.11" y="1005.64" width="16" height="16"/><rect x="899.17" y="999.07" width="16" height="16"/><rect x="904.78" y="993.91" width="16" height="16"/><rect x="910.01" y="991.79" width="16" height="16"/><rect x="914.9" y="989.36" width="16" height="16"/><rect x="919.49" y="987.82" width="16" height="16"/><rect x="923.82" y="986.38" width="16" height="16"/><rect x="927.91" y="984.37" width="16" height="16"/><rect x="931.8" y="983.5" width="16" height="16"/><rect x="935.5" y="983.5" width="16" height="16"/><rect x="939.02" y="983.5" width="16" height="16"/><rect x="942.39" y="983.53" width="16" height="16"/><rect x="945.61" y="983.76" width="16" height="16"/><rect x="948.7" y="984.14" width="16" height="16"/><rect x="951.67" y="984.56" width="16" height="16"/><rect x="954.53" y="984.94" width="16" height="16"/><rect x="957.28" y="985.34" width="16" height="16"/><rect x="959.94" y="985.76" width="16" height="16"/><rect x="962.51" y="985.99" width="16" height="16"/><rect x="984.3" y="986.09" width="16" height="16"/><rect x="1001.2" y="986.52" width="16" height="16"/><rect x="1015.01" y="988.88" width="16" height="16"/><rect x="1026.69" y="990.38" width="16" height="16"/><rect x="1036.8" y="991.71" width="16" height="16"/><rect x="1045.72" y="992.98" width="16" height="16"/><rect x="1053.7" y="994.36" width="16" height="16"/><rect x="1060.8" y="996.16" width="16" height="16"/><rect x="1067.29" y="998.07" width="16" height="16"/><rect x="1073.25" y="1000.16" width="16" height="16"/><rect x="1078.78" y="1002.59" width="16" height="16"/><rect x="1083.92" y="1003.09" width="16" height="16"/><rect x="1088.73" y="1003.83" width="16" height="16"/><rect x="1093.25" y="1008.05" width="16" height="16"/><rect x="1097.5" y="1009.58" width="16" height="16"/><rect x="1101.53" y="1011.7" width="16" height="16"/><rect x="1105.36" y="1014.63" width="16" height="16"/><rect x="1108.99" y="1016.14" width="16" height="16"/><rect x="1112.46" y="1016.75" width="16" height="16"/><rect x="1115.77" y="1017.68" width="16" height="16"/><rect x="1118.94" y="1021.13" width="16" height="16"/><rect x="1121.99" y="1024.64" width="16" height="16"/><rect x="1124.91" y="1026.96" width="16" height="16"/><rect x="1127.72" y="1027.99" width="16" height="16"/><rect x="1130.43" y="1029.21" width="16" height="16"/><rect x="1133.05" y="1033.18" width="16" height="16"/><rect x="1135.57" y="1039.99" width="16" height="16"/></g>
<path d="M195.2 1606.5 L247.6 1602.9 L278.3 1601.0 L300.1 1598.7 L317.0 1595.8 L330.8 1593.2 L342.4 1590.6 L352.5 1587.5 L361.4 1585.6 L369.4 1582.8 L376.5 1579.7 L383.0 1576.8 L389.0 1573.8 L394.5 1571.1 L399.7 1568.4 L404.5 1564.8 L409.0 1561.7 L413.3 1558.9 L417.3 1556.6 L421.1 1554.3 L424.8 1551.5 L428.3 1547.7 L431.6 1544.2 L434.8 1541.0 L437.8 1538.0 L440.7 1534.9 L443.6 1531.9 L446.3 1529.3 L448.9 1527.0 L451.4 1524.4 L472.9 1497.2 L489.6 1475.2 L503.2 1454.1 L514.7 1433.7 L524.6 1419.2 L533.4 1405.2 L541.3 1393.7 L548.5 1384.5 L555.1 1371.8 L561.2 1362.8 L566.8 1357.6 L572.0 1351.7 L576.9 1345.2 L581.5 1342.5 L585.8 1336.1 L589.9 1334.2 L593.8 1330.7 L597.5 1329.3 L601.0 1325.6 L604.3 1322.8 L607.6 1321.3 L610.7 1317.9 L613.6 1317.2 L616.5 1315.3 L619.2 1312.7 L621.9 1312.1 L624.5 1310.0 L646.2 1294.8 L663.1 1277.2 L676.9 1256.8 L688.6 1240.1 L698.7 1218.9 L707.6 1207.3 L715.6 1191.9 L722.7 1177.5 L729.2 1166.9 L735.2 1158.7 L740.7 1146.8 L745.8 1139.4 L750.6 1134.9 L755.2 1127.8 L759.4 1122.8 L763.5 1117.2 L767.3 1115.2 L770.9 1112.2 L774.4 1110.0 L777.7 1107.3 L780.9 1104.6 L783.9 1102.8 L786.9 1100.4 L789.7 1098.6 L792.4 1097.4 L795.0 1096.9 L797.5 1096.5 L819.0 1088.3 L835.6 1081.1 L849.2 1070.7 L860.7 1055.7 L870.7 1047.1 L879.4 1042.7 L887.3 1034.9 L894.5 1026.8 L901.1 1017.9 L907.2 1012.3 L912.8 1007.4 L918.0 1004.6 L922.9 1002.1 L927.5 999.8 L931.8 998.1 L935.9 996.9 L939.8 996.2 L943.5 995.6 L947.0 995.2 L950.4 995.0 L953.6 994.9 L956.7 994.8 L959.7 994.8 L962.5 994.7 L965.3 994.7 L967.9 994.6 L970.5 994.5 L992.3 992.0 L1009.2 993.3 L1023.0 993.5 L1034.7 994.0 L1044.8 997.3 L1053.7 998.3 L1061.7 999.8 L1068.8 1003.3 L1075.3 1005.3 L1081.3 1006.7 L1086.8 1008.0 L1091.9 1009.4 L1096.7 1010.8 L1101.2 1012.1 L1105.5 1013.7 L1109.5 1015.9 L1113.4 1018.1 L1117.0 1019.5 L1120.5 1020.5 L1123.8 1021.7 L1126.9 1023.6 L1130.0 1026.0 L1132.9 1028.6 L1135.7 1031.5 L1138.4 1034.2 L1141.0 1036.8 L1143.6 1039.4" fill="none" stroke="#000" stroke-width="2.5" stroke-linejoin="round"/>
<g fill="none" stroke="#000" stroke-width="2.5"><rect x="188.75" y="1600.06" width="12.9" height="12.9"/><rect x="241.19" y="1596.5" width="12.9" height="12.9"/><rect x="271.86" y="1594.6" width="12.9" height="12.9"/><rect x="293.63" y="1592.24" width="12.9" height="12.9"/><rect x="310.51" y="1589.4" width="12.9" height="12.9"/><rect x="324.3" y="1586.72" width="12.9" height="12.9"/><rect x="335.97" y="1584.11" width="12.9" height="12.9"/><rect x="346.07" y="1581.05" width="12.9" height="12.9"/><rect x="354.98" y="1579.13" width="12.9" height="12.9"/><rect x="362.95" y="1576.39" width="12.9" height="12.9"/><rect x="370.07" y="1573.28" width="12.9" height="12.9"/><rect x="376.56" y="1570.4" width="12.9" height="12.9"/><rect x="382.54" y="1567.36" width="12.9" height="12.9"/><rect x="388.07" y="1564.65" width="12.9" height="12.9"/><rect x="393.22" y="1561.98" width="12.9" height="12.9"/><rect x="398.04" y="1558.4" width="12.9" height="12.9"/><rect x="402.56" y="1555.21" width="12.9" height="12.9"/><rect x="406.83" y="1552.5" width="12.9" height="12.9"/><rect x="410.87" y="1550.12" width="12.9" height="12.9"/><rect x="414.7" y="1547.83" width="12.9" height="12.9"/><rect x="418.34" y="1545.04" width="12.9" height="12.9"/><rect x="421.81" y="1541.2" width="12.9" height="12.9"/><rect x="425.13" y="1537.79" width="12.9" height="12.9"/><rect x="428.31" y="1534.59" width="12.9" height="12.9"/><rect x="431.36" y="1531.57" width="12.9" height="12.9"/><rect x="434.28" y="1528.49" width="12.9" height="12.9"/><rect x="437.1" y="1525.42" width="12.9" height="12.9"/><rect x="439.82" y="1522.83" width="12.9" height="12.9"/><rect x="442.44" y="1520.53" width="12.9" height="12.9"/><rect x="444.97" y="1517.96" width="12.9" height="12.9"/><rect x="466.44" y="1490.76" width="12.9" height="12.9"/><rect x="483.1" y="1468.76" width="12.9" height="12.9"/><rect x="496.71" y="1447.67" width="12.9" height="12.9"/><rect x="508.22" y="1427.26" width="12.9" height="12.9"/><rect x="518.19" y="1412.79" width="12.9" height="12.9"/><rect x="526.98" y="1398.73" width="12.9" height="12.9"/><rect x="534.85" y="1387.24" width="12.9" height="12.9"/><rect x="542.06" y="1378.04" width="12.9" height="12.9"/><rect x="548.65" y="1365.37" width="12.9" height="12.9"/><rect x="554.71" y="1356.3" width="12.9" height="12.9"/><rect x="560.32" y="1351.17" width="12.9" height="12.9"/><rect x="565.54" y="1345.23" width="12.9" height="12.9"/><rect x="570.43" y="1338.76" width="12.9" height="12.9"/><rect x="575.02" y="1336.08" width="12.9" height="12.9"/><rect x="579.34" y="1329.61" width="12.9" height="12.9"/><rect x="583.44" y="1327.76" width="12.9" height="12.9"/><rect x="587.32" y="1324.26" width="12.9" height="12.9"/><rect x="591.01" y="1322.81" width="12.9" height="12.9"/><rect x="594.53" y="1319.15" width="12.9" height="12.9"/><rect x="597.9" y="1316.32" width="12.9" height="12.9"/><rect x="601.12" y="1314.87" width="12.9" height="12.9"/><rect x="604.21" y="1311.5" width="12.9" height="12.9"/><rect x="607.18" y="1310.72" width="12.9" height="12.9"/><rect x="610.04" y="1308.9" width="12.9" height="12.9"/><rect x="612.79" y="1306.28" width="12.9" height="12.9"/><rect x="615.45" y="1305.66" width="12.9" height="12.9"/><rect x="618.01" y="1303.57" width="12.9" height="12.9"/><rect x="639.79" y="1288.33" width="12.9" height="12.9"/><rect x="656.68" y="1270.74" width="12.9" height="12.9"/><rect x="670.48" y="1250.38" width="12.9" height="12.9"/><rect x="682.15" y="1233.67" width="12.9" height="12.9"/><rect x="692.26" y="1212.45" width="12.9" height="12.9"/><rect x="701.17" y="1200.81" width="12.9" height="12.9"/><rect x="709.15" y="1185.45" width="12.9" height="12.9"/><rect x="716.26" y="1171.07" width="12.9" height="12.9"/><rect x="722.75" y="1160.41" width="12.9" height="12.9"/><rect x="728.71" y="1152.27" width="12.9" height="12.9"/><rect x="734.24" y="1140.33" width="12.9" height="12.9"/><rect x="739.38" y="1132.96" width="12.9" height="12.9"/><rect x="744.2" y="1128.49" width="12.9" height="12.9"/><rect x="748.72" y="1121.35" width="12.9" height="12.9"/><rect x="752.98" y="1116.38" width="12.9" height="12.9"/><rect x="757.01" y="1110.72" width="12.9" height="12.9"/><rect x="760.84" y="1108.73" width="12.9" height="12.9"/><rect x="764.48" y="1105.76" width="12.9" height="12.9"/><rect x="767.94" y="1103.54" width="12.9" height="12.9"/><rect x="771.26" y="1100.89" width="12.9" height="12.9"/><rect x="774.43" y="1098.1" width="12.9" height="12.9"/><rect x="777.48" y="1096.36" width="12.9" height="12.9"/><rect x="780.4" y="1093.99" width="12.9" height="12.9"/><rect x="783.22" y="1092.16" width="12.9" height="12.9"/><rect x="785.93" y="1090.92" width="12.9" height="12.9"/><rect x="788.54" y="1090.4" width="12.9" height="12.9"/><rect x="791.07" y="1090.05" width="12.9" height="12.9"/><rect x="812.52" y="1081.82" width="12.9" height="12.9"/><rect x="829.16" y="1074.68" width="12.9" height="12.9"/><rect x="842.76" y="1064.26" width="12.9" height="12.9"/><rect x="854.25" y="1049.29" width="12.9" height="12.9"/><rect x="864.21" y="1040.7" width="12.9" height="12.9"/><rect x="872.99" y="1036.23" width="12.9" height="12.9"/><rect x="880.85" y="1028.46" width="12.9" height="12.9"/><rect x="888.07" y="1020.4" width="12.9" height="12.9"/><rect x="894.66" y="1011.4" width="12.9" height="12.9"/><rect x="900.72" y="1005.83" width="12.9" height="12.9"/><rect x="906.33" y="1000.9" width="12.9" height="12.9"/><rect x="911.56" y="998.13" width="12.9" height="12.9"/><rect x="916.45" y="995.7" width="12.9" height="12.9"/><rect x="921.04" y="993.31" width="12.9" height="12.9"/><rect x="925.37" y="991.62" width="12.9" height="12.9"/><rect x="929.46" y="990.43" width="12.9" height="12.9"/><rect x="933.35" y="989.71" width="12.9" height="12.9"/><rect x="937.05" y="989.14" width="12.9" height="12.9"/><rect x="940.57" y="988.75" width="12.9" height="12.9"/><rect x="943.94" y="988.53" width="12.9" height="12.9"/><rect x="947.16" y="988.43" width="12.9" height="12.9"/><rect x="950.25" y="988.36" width="12.9" height="12.9"/><rect x="953.22" y="988.31" width="12.9" height="12.9"/><rect x="956.08" y="988.26" width="12.9" height="12.9"/><rect x="958.83" y="988.21" width="12.9" height="12.9"/><rect x="961.49" y="988.15" width="12.9" height="12.9"/><rect x="964.06" y="988.07" width="12.9" height="12.9"/><rect x="985.85" y="985.55" width="12.9" height="12.9"/><rect x="1002.75" y="986.88" width="12.9" height="12.9"/><rect x="1016.56" y="987.1" width="12.9" height="12.9"/><rect x="1028.24" y="987.56" width="12.9" height="12.9"/><rect x="1038.35" y="990.83" width="12.9" height="12.9"/><rect x="1047.27" y="991.85" width="12.9" height="12.9"/><rect x="1055.25" y="993.36" width="12.9" height="12.9"/><rect x="1062.35" y="996.88" width="12.9" height="12.9"/><rect x="1068.84" y="998.85" width="12.9" height="12.9"/><rect x="1074.8" y="1000.28" width="12.9" height="12.9"/><rect x="1080.33" y="1001.6" width="12.9" height="12.9"/><rect x="1085.47" y="1002.96" width="12.9" height="12.9"/><rect x="1090.28" y="1004.32" width="12.9" height="12.9"/><rect x="1094.8" y="1005.65" width="12.9" height="12.9"/><rect x="1099.05" y="1007.22" width="12.9" height="12.9"/><rect x="1103.08" y="1009.44" width="12.9" height="12.9"/><rect x="1106.91" y="1011.62" width="12.9" height="12.9"/><rect x="1110.54" y="1013.06" width="12.9" height="12.9"/><rect x="1114.01" y="1014.02" width="12.9" height="12.9"/><rect x="1117.32" y="1015.26" width="12.9" height="12.9"/><rect x="1120.49" y="1017.19" width="12.9" height="12.9"/><rect x="1123.54" y="1019.52" width="12.9" height="12.9"/><rect x="1126.46" y="1022.11" width="12.9" height="12.9"/><rect x="1129.27" y="1025.05" width="12.9" height="12.9"/><rect x="1131.98" y="1027.78" width="12.9" height="12.9"/><rect x="1134.6" y="1030.4" width="12.9" height="12.9"/><rect x="1137.12" y="1032.92" width="12.9" height="12.9"/></g>
<g transform="translate(105.42 1615.71) scale(32.8665 34.6041)"><text x="0" y="0" font-family='"Liberation Sans", sans-serif' font-weight="normal" font-size="1" style="font-kerning:none">0.00</text></g>
<g transform="translate(105.42 1491.91) scale(32.8665 34.6041)"><text x="0" y="0" font-family='"Liberation Sans", sans-serif' font-weight="normal" font-size="1" style="font-kerning:none">0.20</text></g>
<g transform="translate(105.42 1370.71) scale(32.8665 34.6041)"><text x="0" y="0" font-family='"Liberation Sans", sans-serif' font-weight="normal" font-size="1" style="font-kerning:none">0.40</text></g>
<g transform="translate(105.42 1246.41) scale(32.8665 34.6041)"><text x="0" y="0" font-family='"Liberation Sans", sans-serif' font-weight="normal" font-size="1" style="font-kerning:none">0.60</text></g>
<g transform="translate(105.42 1124.91) scale(32.8665 34.6041)"><text x="0" y="0" font-family='"Liberation Sans", sans-serif' font-weight="normal" font-size="1" style="font-kerning:none">0.80</text></g>
<g transform="translate(105.42 1000.91) scale(32.8665 34.6041)"><text x="0" y="0" font-family='"Liberation Sans", sans-serif' font-weight="normal" font-size="1" style="font-kerning:none">1.00</text><rect x="0.0562" y="-0.1050" width="0.1913" height="0.1300" fill="#fff"/><rect x="0.3438" y="-0.1050" width="0.1835" height="0.1300" fill="#fff"/></g>
<g transform="translate(105.42 879.31) scale(32.8665 34.6041)"><text x="0" y="0" font-family='"Liberation Sans", sans-serif' font-weight="normal" font-size="1" style="font-kerning:none">1.20</text><rect x="0.0562" y="-0.1050" width="0.1913" height="0.1300" fill="#fff"/><rect x="0.3438" y="-0.1050" width="0.1835" height="0.1300" fill="#fff"/></g>
<g transform="translate(137.57 1667.17) scale(34.0540 33.3330)"><text x="0" y="0" font-family='"Liberation Sans", sans-serif' font-weight="normal" font-size="1" style="font-kerning:none">0.00001</text><rect x="3.1148" y="-0.1050" width="0.1913" height="0.1300" fill="#fff"/><rect x="3.4024" y="-0.1050" width="0.1835" height="0.1300" fill="#fff"/></g>
<g transform="translate(320.06 1667.17) scale(34.3890 33.3330)"><text x="0" y="0" font-family='"Liberation Sans", sans-serif' font-weight="normal" font-size="1" style="font-kerning:none">0.0001</text><rect x="2.5586" y="-0.1050" width="0.1913" height="0.1300" fill="#fff"/><rect x="2.8463" y="-0.1050" width="0.1835" height="0.1300" fill="#fff"/></g>
<g transform="translate(502.37 1667.17) scale(34.0443 33.3330)"><text x="0" y="0" font-family='"Liberation Sans", sans-serif' font-weight="normal" font-size="1" style="font-kerning:none">0.001</text><rect x="2.0025" y="-0.1050" width="0.1913" height="0.1300" fill="#fff"/><rect x="2.2901" y="-0.1050" width="0.1835" height="0.1300" fill="#fff"/></g>
<g transform="translate(684.77 1667.17) scale(34.0052 33.3330)"><text x="0" y="0" font-family='"Liberation Sans", sans-serif' font-weight="normal" font-size="1" style="font-kerning:none">0.01</text><rect x="1.4463" y="-0.1050" width="0.1913" height="0.1300" fill="#fff"/><rect x="1.7340" y="-0.1050" width="0.1835" height="0.1300" fill="#fff"/></g>
<g transform="translate(866.33 1667.17) scale(35.1614 33.3330)"><text x="0" y="0" font-family='"Liberation Sans", sans-serif' font-weight="normal" font-size="1" style="font-kerning:none">0.1</text><rect x="0.8902" y="-0.1050" width="0.1913" height="0.1300" fill="#fff"/><rect x="1.1778" y="-0.1050" width="0.1835" height="0.1300" fill="#fff"/></g>
<g transform="translate(1053.8 1667.5) scale(44.7359 34.3029)"><text x="0" y="0" font-family='"Liberation Sans", sans-serif' font-weight="normal" font-size="1" style="font-kerning:none">1</text><rect x="0.0562" y="-0.1050" width="0.1913" height="0.1300" fill="#fff"/><rect x="0.3438" y="-0.1050" width="0.1835" height="0.1300" fill="#fff"/></g>
<g transform="translate(1215.21 1667.17) scale(33.1610 33.3330)"><text x="0" y="0" font-family='"Liberation Sans", sans-serif' font-weight="normal" font-size="1" style="font-kerning:none">10</text><rect x="0.0562" y="-0.1050" width="0.1913" height="0.1300" fill="#fff"/><rect x="0.3438" y="-0.1050" width="0.1835" height="0.1300" fill="#fff"/></g>
<g transform="translate(650.64 1733.24) scale(37.8951 37.3106)"><text x="0" y="0" font-family='"Liberation Sans", sans-serif' font-weight="bold" font-size="1" style="font-kerning:none">time sec</text></g>
<g transform="translate(79.92 1407.45) rotate(-90) scale(35.6787 38.5362)"><text x="0" y="0" font-family='"Liberation Sans", sans-serif' font-weight="bold" font-size="1" style="font-kerning:none">normalized fluorescence</text></g>
<g transform="translate(72.26 878.61) scale(42.3518 40.2210)"><text x="0" y="0" font-family='"Liberation Serif", serif' font-weight="bold" font-size="1" style="font-kerning:none">b</text></g>
<rect x="1262.8" y="1184.3" width="150.7" height="107.6" fill="#fff" stroke="#000" stroke-width="1.7"/>
<line x1="1275.5" y1="1214" x2="1349.9" y2="1214" stroke="#000" stroke-width="2.8" stroke-linecap="round"/>
<g fill="#000"><rect x="1302.3" y="1206.1" width="15.8" height="15.8"/></g>
<g transform="translate(1356.66 1221.98) scale(33.2189 32.2723)"><text x="0" y="0" font-family='"Liberation Sans", sans-serif' font-weight="normal" font-size="1" style="font-kerning:none">b-2</text></g>
<line x1="1275.5" y1="1267.9" x2="1349.9" y2="1267.9" stroke="#000" stroke-width="2.8" stroke-linecap="round"/>
<g fill="none" stroke="#000" stroke-width="3"><rect x="1303.8" y="1261.5" width="12.8" height="12.8"/></g>
<g transform="translate(1356.69 1275.49) scale(32.7029 31.4553)"><text x="0" y="0" font-family='"Liberation Sans", sans-serif' font-weight="normal" font-size="1" style="font-kerning:none">b-4</text></g>
<line x1="149.4" y1="2271" x2="1224.5" y2="2271" stroke="#000" stroke-width="1.6"/>
<line x1="149.4" y1="2174.5" x2="1224.5" y2="2174.5" stroke="#000" stroke-width="1.6"/>
<line x1="149.4" y1="2079.5" x2="1224.5" y2="2079.5" stroke="#000" stroke-width="1.6"/>
<line x1="149.4" y1="1984.5" x2="1224.5" y2="1984.5" stroke="#000" stroke-width="1.6"/>
<line x1="149.4" y1="1887.8" x2="1224.5" y2="1887.8" stroke="#000" stroke-width="1.6"/>
<path d="M149.4 1792.9H1224.5V2365.5" fill="none" stroke="#7a7a7a" stroke-width="2.6"/>
<line x1="139.4" y1="2365.5" x2="149.4" y2="2365.5" stroke="#000" stroke-width="1.9"/>
<line x1="139.4" y1="2271" x2="149.4" y2="2271" stroke="#000" stroke-width="1.9"/>
<line x1="139.4" y1="2174.5" x2="149.4" y2="2174.5" stroke="#000" stroke-width="1.9"/>
<line x1="139.4" y1="2079.5" x2="149.4" y2="2079.5" stroke="#000" stroke-width="1.9"/>
<line x1="139.4" y1="1984.5" x2="149.4" y2="1984.5" stroke="#000" stroke-width="1.9"/>
<line x1="139.4" y1="1887.8" x2="149.4" y2="1887.8" stroke="#000" stroke-width="1.9"/>
<line x1="139.4" y1="1792.9" x2="149.4" y2="1792.9" stroke="#000" stroke-width="1.9"/>
<line x1="149.4" y1="2365.5" x2="149.4" y2="2375.5" stroke="#000" stroke-width="1.9"/>
<line x1="328" y1="2365.5" x2="328" y2="2375.5" stroke="#000" stroke-width="1.9"/>
<line x1="508.7" y1="2365.5" x2="508.7" y2="2375.5" stroke="#000" stroke-width="1.9"/>
<line x1="687.2" y1="2365.5" x2="687.2" y2="2375.5" stroke="#000" stroke-width="1.9"/>
<line x1="865.4" y1="2365.5" x2="865.4" y2="2375.5" stroke="#000" stroke-width="1.9"/>
<line x1="1046.2" y1="2365.5" x2="1046.2" y2="2375.5" stroke="#000" stroke-width="1.9"/>
<line x1="1224.5" y1="2365.5" x2="1224.5" y2="2375.5" stroke="#000" stroke-width="1.9"/>
<line x1="149.4" y1="1791.6" x2="149.4" y2="2366.8" stroke="#000" stroke-width="2.6"/>
<line x1="148.1" y1="2365.5" x2="1225.8" y2="2365.5" stroke="#000" stroke-width="2.6"/>
<path d="M147.7 2364.3 L201.5 2361.4 L232.9 2359.8 L255.2 2357.7 L272.5 2356.2 L286.7 2354.7 L298.6 2352.4 L309.0 2351.3 L318.1 2350.3 L326.3 2348.4 L333.8 2346.0 L340.6 2344.5 L346.9 2343.2 L352.7 2341.2 L358.1 2339.3 L363.2 2338.1 L367.9 2337.0 L372.4 2335.1 L376.7 2332.5 L380.7 2329.7 L384.5 2328.1 L388.2 2327.0 L391.7 2325.8 L395.0 2323.8 L398.2 2321.4 L401.3 2320.2 L404.2 2319.0 L407.1 2317.1 L409.9 2314.3 L412.5 2311.7 L435.1 2296.5 L452.6 2281.1 L466.9 2263.3 L479.0 2253.0 L489.5 2242.5 L498.7 2230.6 L507.0 2223.1 L514.4 2212.3 L521.1 2206.0 L527.3 2199.8 L533.1 2193.7 L538.4 2188.6 L543.4 2183.7 L548.1 2179.0 L552.6 2174.9 L556.8 2172.7 L560.7 2167.8 L564.5 2165.2 L568.1 2163.2 L571.6 2159.5 L574.9 2158.2 L578.0 2157.3 L581.1 2156.2 L584.0 2153.9 L586.8 2152.3 L589.5 2152.4 L592.2 2152.5 L614.5 2144.8 L631.8 2137.8 L645.9 2132.0 L657.9 2126.1 L668.2 2116.3 L677.3 2109.3 L685.5 2103.1 L692.9 2095.6 L699.6 2088.8 L705.8 2083.7 L711.5 2077.8 L716.9 2071.9 L721.9 2065.2 L726.6 2058.3 L731.0 2053.4 L735.2 2049.1 L739.1 2043.3 L742.9 2039.7 L746.5 2033.3 L750.0 2029.7 L753.3 2024.6 L756.4 2022.7 L759.4 2020.4 L762.4 2015.8 L765.2 2012.4 L767.9 2009.9 L770.5 2005.8 L792.8 1986.7 L810.1 1971.8 L824.2 1963.5 L836.1 1954.8 L846.4 1948.3 L855.5 1941.9 L863.7 1935.4 L871.2 1929.7 L878.0 1925.4 L884.3 1919.4 L890.1 1916.2 L895.5 1912.6 L900.6 1909.6 L905.4 1907.4 L909.9 1904.7 L914.1 1901.8 L918.1 1900.9 L922.0 1900.4 L925.6 1899.5 L929.1 1897.6 L932.4 1896.2 L935.6 1895.1 L938.7 1894.4 L941.7 1893.8 L944.5 1893.1 L947.3 1892.1 L950.0 1890.9 L972.6 1886.4 L990.1 1886.8 L1004.4 1888.8 L1016.5 1888.9 L1027.0 1891.0 L1036.2 1892.5 L1044.5 1893.3 L1051.9 1893.4 L1058.6 1893.7 L1064.8 1894.9 L1070.6 1895.9 L1075.9 1896.8 L1080.9 1897.6 L1085.6 1898.2 L1090.0 1898.7 L1094.2 1899.2 L1098.2 1899.8 L1102.0 1900.5 L1105.6 1901.3 L1109.0 1902.3 L1112.3 1903.9 L1115.5 1904.6 L1118.5 1904.6 L1121.4 1904.6 L1124.2 1904.6 L1126.9 1904.6 L1129.6 1904.6" fill="none" stroke="#000" stroke-width="2.3" stroke-linejoin="round"/>
<g fill="#000"><rect x="141.2" y="2357.76" width="13" height="13"/><rect x="194.96" y="2354.85" width="13" height="13"/><rect x="226.41" y="2353.27" width="13" height="13"/><rect x="248.73" y="2351.15" width="13" height="13"/><rect x="266.04" y="2349.74" width="13" height="13"/><rect x="280.18" y="2348.23" width="13" height="13"/><rect x="292.13" y="2345.92" width="13" height="13"/><rect x="302.49" y="2344.79" width="13" height="13"/><rect x="311.63" y="2343.82" width="13" height="13"/><rect x="319.8" y="2341.93" width="13" height="13"/><rect x="327.28" y="2339.55" width="13" height="13"/><rect x="334.11" y="2338.03" width="13" height="13"/><rect x="340.39" y="2336.72" width="13" height="13"/><rect x="346.21" y="2334.72" width="13" height="13"/><rect x="351.62" y="2332.84" width="13" height="13"/><rect x="356.68" y="2331.65" width="13" height="13"/><rect x="361.44" y="2330.47" width="13" height="13"/><rect x="365.93" y="2328.57" width="13" height="13"/><rect x="370.17" y="2326.01" width="13" height="13"/><rect x="374.2" y="2323.22" width="13" height="13"/><rect x="378.03" y="2321.61" width="13" height="13"/><rect x="381.68" y="2320.5" width="13" height="13"/><rect x="385.16" y="2319.27" width="13" height="13"/><rect x="388.5" y="2317.26" width="13" height="13"/><rect x="391.71" y="2314.95" width="13" height="13"/><rect x="394.79" y="2313.68" width="13" height="13"/><rect x="397.75" y="2312.54" width="13" height="13"/><rect x="400.6" y="2310.6" width="13" height="13"/><rect x="403.36" y="2307.83" width="13" height="13"/><rect x="406.02" y="2305.2" width="13" height="13"/><rect x="428.59" y="2289.98" width="13" height="13"/><rect x="446.1" y="2274.64" width="13" height="13"/><rect x="460.41" y="2256.79" width="13" height="13"/><rect x="472.51" y="2246.46" width="13" height="13"/><rect x="482.99" y="2235.97" width="13" height="13"/><rect x="492.23" y="2224.12" width="13" height="13"/><rect x="500.5" y="2216.56" width="13" height="13"/><rect x="507.89" y="2205.76" width="13" height="13"/><rect x="514.63" y="2199.48" width="13" height="13"/><rect x="520.84" y="2193.27" width="13" height="13"/><rect x="526.58" y="2187.21" width="13" height="13"/><rect x="531.93" y="2182.05" width="13" height="13"/><rect x="536.94" y="2177.16" width="13" height="13"/><rect x="541.64" y="2172.47" width="13" height="13"/><rect x="546.07" y="2168.42" width="13" height="13"/><rect x="550.26" y="2166.19" width="13" height="13"/><rect x="554.23" y="2161.32" width="13" height="13"/><rect x="558.02" y="2158.7" width="13" height="13"/><rect x="561.62" y="2156.73" width="13" height="13"/><rect x="565.07" y="2153.05" width="13" height="13"/><rect x="568.37" y="2151.68" width="13" height="13"/><rect x="571.53" y="2150.79" width="13" height="13"/><rect x="574.57" y="2149.66" width="13" height="13"/><rect x="577.5" y="2147.4" width="13" height="13"/><rect x="580.32" y="2145.81" width="13" height="13"/><rect x="583.04" y="2145.9" width="13" height="13"/><rect x="585.67" y="2146" width="13" height="13"/><rect x="607.97" y="2138.32" width="13" height="13"/><rect x="625.27" y="2131.31" width="13" height="13"/><rect x="639.4" y="2125.54" width="13" height="13"/><rect x="651.35" y="2119.63" width="13" height="13"/><rect x="661.7" y="2109.76" width="13" height="13"/><rect x="670.83" y="2102.77" width="13" height="13"/><rect x="679" y="2096.56" width="13" height="13"/><rect x="686.38" y="2089.12" width="13" height="13"/><rect x="693.11" y="2082.33" width="13" height="13"/><rect x="699.3" y="2077.15" width="13" height="13"/><rect x="705.04" y="2071.31" width="13" height="13"/><rect x="710.38" y="2065.4" width="13" height="13"/><rect x="715.37" y="2058.66" width="13" height="13"/><rect x="720.07" y="2051.77" width="13" height="13"/><rect x="724.49" y="2046.92" width="13" height="13"/><rect x="728.67" y="2042.56" width="13" height="13"/><rect x="732.64" y="2036.83" width="13" height="13"/><rect x="736.42" y="2033.25" width="13" height="13"/><rect x="740.02" y="2026.84" width="13" height="13"/><rect x="743.46" y="2023.24" width="13" height="13"/><rect x="746.75" y="2018.09" width="13" height="13"/><rect x="749.91" y="2016.23" width="13" height="13"/><rect x="752.95" y="2013.94" width="13" height="13"/><rect x="755.87" y="2009.32" width="13" height="13"/><rect x="758.68" y="2005.92" width="13" height="13"/><rect x="761.4" y="2003.43" width="13" height="13"/><rect x="764.02" y="1999.31" width="13" height="13"/><rect x="786.29" y="1980.19" width="13" height="13"/><rect x="803.56" y="1965.3" width="13" height="13"/><rect x="817.67" y="1957.04" width="13" height="13"/><rect x="829.6" y="1948.33" width="13" height="13"/><rect x="839.93" y="1941.8" width="13" height="13"/><rect x="849.05" y="1935.38" width="13" height="13"/><rect x="857.2" y="1928.89" width="13" height="13"/><rect x="864.68" y="1923.15" width="13" height="13"/><rect x="871.52" y="1918.95" width="13" height="13"/><rect x="877.8" y="1912.92" width="13" height="13"/><rect x="883.62" y="1909.71" width="13" height="13"/><rect x="889.04" y="1906.09" width="13" height="13"/><rect x="894.1" y="1903.14" width="13" height="13"/><rect x="898.87" y="1900.86" width="13" height="13"/><rect x="903.35" y="1898.17" width="13" height="13"/><rect x="907.6" y="1895.33" width="13" height="13"/><rect x="911.63" y="1894.44" width="13" height="13"/><rect x="915.46" y="1893.89" width="13" height="13"/><rect x="919.11" y="1893.02" width="13" height="13"/><rect x="922.6" y="1891.14" width="13" height="13"/><rect x="925.94" y="1889.71" width="13" height="13"/><rect x="929.15" y="1888.63" width="13" height="13"/><rect x="932.23" y="1887.87" width="13" height="13"/><rect x="935.19" y="1887.29" width="13" height="13"/><rect x="938.05" y="1886.64" width="13" height="13"/><rect x="940.8" y="1885.63" width="13" height="13"/><rect x="943.46" y="1884.44" width="13" height="13"/><rect x="966.05" y="1879.9" width="13" height="13"/><rect x="983.57" y="1880.28" width="13" height="13"/><rect x="997.89" y="1882.29" width="13" height="13"/><rect x="1009.99" y="1882.37" width="13" height="13"/><rect x="1020.48" y="1884.53" width="13" height="13"/><rect x="1029.73" y="1885.97" width="13" height="13"/><rect x="1038" y="1886.78" width="13" height="13"/><rect x="1045.38" y="1886.91" width="13" height="13"/><rect x="1052.12" y="1887.19" width="13" height="13"/><rect x="1058.32" y="1888.44" width="13" height="13"/><rect x="1064.05" y="1889.42" width="13" height="13"/><rect x="1069.4" y="1890.29" width="13" height="13"/><rect x="1074.39" y="1891.06" width="13" height="13"/><rect x="1079.09" y="1891.67" width="13" height="13"/><rect x="1083.52" y="1892.19" width="13" height="13"/><rect x="1087.7" y="1892.7" width="13" height="13"/><rect x="1091.67" y="1893.28" width="13" height="13"/><rect x="1095.45" y="1893.98" width="13" height="13"/><rect x="1099.05" y="1894.82" width="13" height="13"/><rect x="1102.5" y="1895.8" width="13" height="13"/><rect x="1105.79" y="1897.37" width="13" height="13"/><rect x="1108.95" y="1898.1" width="13" height="13"/><rect x="1111.99" y="1898.1" width="13" height="13"/><rect x="1114.91" y="1898.1" width="13" height="13"/><rect x="1117.73" y="1898.1" width="13" height="13"/><rect x="1120.45" y="1898.1" width="13" height="13"/><rect x="1123.07" y="1898.1" width="13" height="13"/></g>
<path d="M147.7 2364.3 L201.5 2361.1 L232.9 2359.6 L255.2 2357.7 L272.5 2355.7 L286.7 2355.1 L298.6 2353.2 L309.0 2351.1 L318.1 2349.4 L326.3 2348.0 L333.8 2346.7 L340.6 2344.7 L346.9 2342.3 L352.7 2340.0 L358.1 2338.6 L363.2 2337.7 L367.9 2336.3 L372.4 2334.4 L376.7 2331.6 L380.7 2329.6 L384.5 2328.2 L388.2 2326.4 L391.7 2324.2 L395.0 2322.0 L398.2 2320.0 L401.3 2318.3 L404.2 2316.8 L407.1 2315.3 L409.9 2313.5 L412.5 2311.4 L435.1 2291.5 L452.6 2277.5 L466.9 2260.7 L479.0 2246.9 L489.5 2235.6 L498.7 2222.7 L507.0 2214.7 L514.4 2204.8 L521.1 2198.1 L527.3 2190.2 L533.1 2181.6 L538.4 2178.3 L543.4 2171.7 L548.1 2166.6 L552.6 2162.7 L556.8 2157.7 L560.7 2155.9 L564.5 2150.8 L568.1 2147.8 L571.6 2145.6 L574.9 2143.4 L578.0 2141.4 L581.1 2139.6 L584.0 2137.4 L586.8 2134.9 L589.5 2132.3 L592.2 2131.8 L614.5 2120.2 L631.8 2110.7 L645.9 2104.6 L657.9 2096.5 L668.2 2089.0 L677.3 2079.8 L685.5 2073.9 L692.9 2066.4 L699.6 2059.2 L705.8 2053.4 L711.5 2048.0 L716.9 2042.6 L721.9 2035.4 L726.6 2030.7 L731.0 2026.0 L735.2 2022.1 L739.1 2017.5 L742.9 2013.9 L746.5 2010.6 L750.0 2007.3 L753.3 2004.0 L756.4 2000.8 L759.4 1997.7 L762.4 1994.7 L765.2 1992.3 L767.9 1990.5 L770.5 1989.0 L792.8 1975.2 L810.1 1965.4 L824.2 1959.4 L836.1 1952.2 L846.4 1947.8 L855.5 1941.7 L863.7 1934.9 L871.2 1928.6 L878.0 1923.9 L884.3 1915.8 L890.1 1914.0 L895.5 1909.3 L900.6 1905.8 L905.4 1903.3 L909.9 1900.7 L914.1 1897.7 L918.1 1895.4 L922.0 1893.6 L925.6 1892.4 L929.1 1891.8 L932.4 1891.4 L935.6 1890.9 L938.7 1890.2 L941.7 1889.1 L944.5 1888.3 L947.3 1888.3 L950.0 1888.6 L972.6 1886.4 L990.1 1886.2 L1004.4 1886.3 L1016.5 1886.3 L1027.0 1887.4 L1036.2 1888.2 L1044.5 1888.4 L1051.9 1888.5 L1058.6 1889.6 L1064.8 1891.4 L1070.6 1892.8 L1075.9 1893.9 L1080.9 1894.7 L1085.6 1895.3 L1090.0 1895.7 L1094.2 1896.1 L1098.2 1896.6 L1102.0 1897.2 L1105.6 1898.0 L1109.0 1898.8 L1112.3 1899.5 L1115.5 1900.1 L1118.5 1900.5 L1121.4 1901.0 L1124.2 1901.6 L1126.9 1902.3 L1129.6 1903.2" fill="none" stroke="#000" stroke-width="2.3" stroke-linejoin="round"/>
<g fill="none" stroke="#000" stroke-width="2.3"><rect x="142.65" y="2359.22" width="10.1" height="10.1"/><rect x="196.41" y="2356" width="10.1" height="10.1"/><rect x="227.86" y="2354.52" width="10.1" height="10.1"/><rect x="250.18" y="2352.62" width="10.1" height="10.1"/><rect x="267.49" y="2350.68" width="10.1" height="10.1"/><rect x="281.63" y="2350.08" width="10.1" height="10.1"/><rect x="293.58" y="2348.13" width="10.1" height="10.1"/><rect x="303.94" y="2346.08" width="10.1" height="10.1"/><rect x="313.08" y="2344.33" width="10.1" height="10.1"/><rect x="321.25" y="2342.94" width="10.1" height="10.1"/><rect x="328.73" y="2341.63" width="10.1" height="10.1"/><rect x="335.56" y="2339.68" width="10.1" height="10.1"/><rect x="341.84" y="2337.27" width="10.1" height="10.1"/><rect x="347.66" y="2334.93" width="10.1" height="10.1"/><rect x="353.07" y="2333.56" width="10.1" height="10.1"/><rect x="358.13" y="2332.64" width="10.1" height="10.1"/><rect x="362.89" y="2331.28" width="10.1" height="10.1"/><rect x="367.38" y="2329.38" width="10.1" height="10.1"/><rect x="371.62" y="2326.54" width="10.1" height="10.1"/><rect x="375.65" y="2324.54" width="10.1" height="10.1"/><rect x="379.48" y="2323.19" width="10.1" height="10.1"/><rect x="383.13" y="2321.37" width="10.1" height="10.1"/><rect x="386.61" y="2319.13" width="10.1" height="10.1"/><rect x="389.95" y="2316.95" width="10.1" height="10.1"/><rect x="393.16" y="2314.92" width="10.1" height="10.1"/><rect x="396.24" y="2313.21" width="10.1" height="10.1"/><rect x="399.2" y="2311.79" width="10.1" height="10.1"/><rect x="402.05" y="2310.27" width="10.1" height="10.1"/><rect x="404.81" y="2308.41" width="10.1" height="10.1"/><rect x="407.47" y="2306.35" width="10.1" height="10.1"/><rect x="430.04" y="2286.4" width="10.1" height="10.1"/><rect x="447.55" y="2272.49" width="10.1" height="10.1"/><rect x="461.86" y="2255.65" width="10.1" height="10.1"/><rect x="473.96" y="2241.87" width="10.1" height="10.1"/><rect x="484.44" y="2230.58" width="10.1" height="10.1"/><rect x="493.68" y="2217.68" width="10.1" height="10.1"/><rect x="501.95" y="2209.66" width="10.1" height="10.1"/><rect x="509.34" y="2199.76" width="10.1" height="10.1"/><rect x="516.08" y="2193.02" width="10.1" height="10.1"/><rect x="522.29" y="2185.18" width="10.1" height="10.1"/><rect x="528.03" y="2176.54" width="10.1" height="10.1"/><rect x="533.38" y="2173.23" width="10.1" height="10.1"/><rect x="538.39" y="2166.67" width="10.1" height="10.1"/><rect x="543.09" y="2161.51" width="10.1" height="10.1"/><rect x="547.52" y="2157.67" width="10.1" height="10.1"/><rect x="551.71" y="2152.68" width="10.1" height="10.1"/><rect x="555.68" y="2150.88" width="10.1" height="10.1"/><rect x="559.47" y="2145.71" width="10.1" height="10.1"/><rect x="563.07" y="2142.78" width="10.1" height="10.1"/><rect x="566.52" y="2140.55" width="10.1" height="10.1"/><rect x="569.82" y="2138.33" width="10.1" height="10.1"/><rect x="572.98" y="2136.31" width="10.1" height="10.1"/><rect x="576.02" y="2134.56" width="10.1" height="10.1"/><rect x="578.95" y="2132.38" width="10.1" height="10.1"/><rect x="581.77" y="2129.83" width="10.1" height="10.1"/><rect x="584.49" y="2127.21" width="10.1" height="10.1"/><rect x="587.12" y="2126.76" width="10.1" height="10.1"/><rect x="609.42" y="2115.2" width="10.1" height="10.1"/><rect x="626.72" y="2105.69" width="10.1" height="10.1"/><rect x="640.85" y="2099.52" width="10.1" height="10.1"/><rect x="652.8" y="2091.48" width="10.1" height="10.1"/><rect x="663.15" y="2083.91" width="10.1" height="10.1"/><rect x="672.28" y="2074.73" width="10.1" height="10.1"/><rect x="680.45" y="2068.8" width="10.1" height="10.1"/><rect x="687.83" y="2061.35" width="10.1" height="10.1"/><rect x="694.56" y="2054.14" width="10.1" height="10.1"/><rect x="700.75" y="2048.32" width="10.1" height="10.1"/><rect x="706.49" y="2042.97" width="10.1" height="10.1"/><rect x="711.83" y="2037.57" width="10.1" height="10.1"/><rect x="716.82" y="2030.3" width="10.1" height="10.1"/><rect x="721.52" y="2025.68" width="10.1" height="10.1"/><rect x="725.94" y="2020.96" width="10.1" height="10.1"/><rect x="730.12" y="2017.08" width="10.1" height="10.1"/><rect x="734.09" y="2012.47" width="10.1" height="10.1"/><rect x="737.87" y="2008.87" width="10.1" height="10.1"/><rect x="741.47" y="2005.52" width="10.1" height="10.1"/><rect x="744.91" y="2002.25" width="10.1" height="10.1"/><rect x="748.2" y="1999" width="10.1" height="10.1"/><rect x="751.36" y="1995.76" width="10.1" height="10.1"/><rect x="754.4" y="1992.68" width="10.1" height="10.1"/><rect x="757.32" y="1989.7" width="10.1" height="10.1"/><rect x="760.13" y="1987.21" width="10.1" height="10.1"/><rect x="762.85" y="1985.44" width="10.1" height="10.1"/><rect x="765.47" y="1983.94" width="10.1" height="10.1"/><rect x="787.74" y="1970.15" width="10.1" height="10.1"/><rect x="805.01" y="1960.32" width="10.1" height="10.1"/><rect x="819.12" y="1954.35" width="10.1" height="10.1"/><rect x="831.05" y="1947.13" width="10.1" height="10.1"/><rect x="841.38" y="1942.78" width="10.1" height="10.1"/><rect x="850.5" y="1936.68" width="10.1" height="10.1"/><rect x="858.65" y="1929.87" width="10.1" height="10.1"/><rect x="866.13" y="1923.53" width="10.1" height="10.1"/><rect x="872.97" y="1918.88" width="10.1" height="10.1"/><rect x="879.25" y="1910.75" width="10.1" height="10.1"/><rect x="885.07" y="1908.92" width="10.1" height="10.1"/><rect x="890.49" y="1904.25" width="10.1" height="10.1"/><rect x="895.55" y="1900.74" width="10.1" height="10.1"/><rect x="900.32" y="1898.26" width="10.1" height="10.1"/><rect x="904.8" y="1895.64" width="10.1" height="10.1"/><rect x="909.05" y="1892.62" width="10.1" height="10.1"/><rect x="913.08" y="1890.35" width="10.1" height="10.1"/><rect x="916.91" y="1888.5" width="10.1" height="10.1"/><rect x="920.56" y="1887.33" width="10.1" height="10.1"/><rect x="924.05" y="1886.72" width="10.1" height="10.1"/><rect x="927.39" y="1886.32" width="10.1" height="10.1"/><rect x="930.6" y="1885.88" width="10.1" height="10.1"/><rect x="933.68" y="1885.14" width="10.1" height="10.1"/><rect x="936.64" y="1884.04" width="10.1" height="10.1"/><rect x="939.5" y="1883.24" width="10.1" height="10.1"/><rect x="942.25" y="1883.26" width="10.1" height="10.1"/><rect x="944.91" y="1883.54" width="10.1" height="10.1"/><rect x="967.5" y="1881.35" width="10.1" height="10.1"/><rect x="985.02" y="1881.15" width="10.1" height="10.1"/><rect x="999.34" y="1881.25" width="10.1" height="10.1"/><rect x="1011.44" y="1881.28" width="10.1" height="10.1"/><rect x="1021.93" y="1882.39" width="10.1" height="10.1"/><rect x="1031.18" y="1883.18" width="10.1" height="10.1"/><rect x="1039.45" y="1883.31" width="10.1" height="10.1"/><rect x="1046.83" y="1883.46" width="10.1" height="10.1"/><rect x="1053.57" y="1884.59" width="10.1" height="10.1"/><rect x="1059.77" y="1886.39" width="10.1" height="10.1"/><rect x="1065.5" y="1887.78" width="10.1" height="10.1"/><rect x="1070.85" y="1888.83" width="10.1" height="10.1"/><rect x="1075.84" y="1889.66" width="10.1" height="10.1"/><rect x="1080.54" y="1890.23" width="10.1" height="10.1"/><rect x="1084.97" y="1890.65" width="10.1" height="10.1"/><rect x="1089.15" y="1891.05" width="10.1" height="10.1"/><rect x="1093.12" y="1891.51" width="10.1" height="10.1"/><rect x="1096.9" y="1892.13" width="10.1" height="10.1"/><rect x="1100.5" y="1892.92" width="10.1" height="10.1"/><rect x="1103.95" y="1893.73" width="10.1" height="10.1"/><rect x="1107.24" y="1894.45" width="10.1" height="10.1"/><rect x="1110.4" y="1895.01" width="10.1" height="10.1"/><rect x="1113.44" y="1895.48" width="10.1" height="10.1"/><rect x="1116.36" y="1895.97" width="10.1" height="10.1"/><rect x="1119.18" y="1896.55" width="10.1" height="10.1"/><rect x="1121.9" y="1897.28" width="10.1" height="10.1"/><rect x="1124.52" y="1898.11" width="10.1" height="10.1"/></g>
<g transform="translate(46.92 2373.76) scale(32.7927 34.4629)"><text x="0" y="0" font-family='"Liberation Sans", sans-serif' font-weight="normal" font-size="1" style="font-kerning:none">0.000</text></g>
<g transform="translate(46.92 2279.26) scale(32.7927 34.4629)"><text x="0" y="0" font-family='"Liberation Sans", sans-serif' font-weight="normal" font-size="1" style="font-kerning:none">0.200</text></g>
<g transform="translate(46.92 2182.76) scale(32.7927 34.4629)"><text x="0" y="0" font-family='"Liberation Sans", sans-serif' font-weight="normal" font-size="1" style="font-kerning:none">0.400</text></g>
<g transform="translate(46.92 2087.76) scale(32.7927 34.4629)"><text x="0" y="0" font-family='"Liberation Sans", sans-serif' font-weight="normal" font-size="1" style="font-kerning:none">0.600</text></g>
<g transform="translate(46.92 1992.76) scale(32.7927 34.4629)"><text x="0" y="0" font-family='"Liberation Sans", sans-serif' font-weight="normal" font-size="1" style="font-kerning:none">0.800</text></g>
<g transform="translate(46.92 1896.06) scale(32.7927 34.4629)"><text x="0" y="0" font-family='"Liberation Sans", sans-serif' font-weight="normal" font-size="1" style="font-kerning:none">1.000</text><rect x="0.0562" y="-0.1050" width="0.1913" height="0.1300" fill="#fff"/><rect x="0.3438" y="-0.1050" width="0.1835" height="0.1300" fill="#fff"/></g>
<g transform="translate(46.92 1801.16) scale(32.7927 34.4629)"><text x="0" y="0" font-family='"Liberation Sans", sans-serif' font-weight="normal" font-size="1" style="font-kerning:none">1.200</text><rect x="0.0562" y="-0.1050" width="0.1913" height="0.1300" fill="#fff"/><rect x="0.3438" y="-0.1050" width="0.1835" height="0.1300" fill="#fff"/></g>
<g transform="translate(97.38 2418.16) scale(33.8753 34.6041)"><text x="0" y="0" font-family='"Liberation Sans", sans-serif' font-weight="normal" font-size="1" style="font-kerning:none">0.00001</text><rect x="3.1148" y="-0.1050" width="0.1913" height="0.1300" fill="#fff"/><rect x="3.4024" y="-0.1050" width="0.1835" height="0.1300" fill="#fff"/></g>
<g transform="translate(284.97 2418.16) scale(34.0323 34.6041)"><text x="0" y="0" font-family='"Liberation Sans", sans-serif' font-weight="normal" font-size="1" style="font-kerning:none">0.0001</text><rect x="2.5586" y="-0.1050" width="0.1913" height="0.1300" fill="#fff"/><rect x="2.8463" y="-0.1050" width="0.1835" height="0.1300" fill="#fff"/></g>
<g transform="translate(473.18 2418.16) scale(33.7773 34.6041)"><text x="0" y="0" font-family='"Liberation Sans", sans-serif' font-weight="normal" font-size="1" style="font-kerning:none">0.001</text><rect x="2.0025" y="-0.1050" width="0.1913" height="0.1300" fill="#fff"/><rect x="2.2901" y="-0.1050" width="0.1835" height="0.1300" fill="#fff"/></g>
<g transform="translate(659.62 2418.16) scale(35.3063 34.6041)"><text x="0" y="0" font-family='"Liberation Sans", sans-serif' font-weight="normal" font-size="1" style="font-kerning:none">0.01</text><rect x="1.4463" y="-0.1050" width="0.1913" height="0.1300" fill="#fff"/><rect x="1.7340" y="-0.1050" width="0.1835" height="0.1300" fill="#fff"/></g>
<g transform="translate(844.57 2418.16) scale(36.6596 34.6041)"><text x="0" y="0" font-family='"Liberation Sans", sans-serif' font-weight="normal" font-size="1" style="font-kerning:none">0.1</text><rect x="0.8902" y="-0.1050" width="0.1913" height="0.1300" fill="#fff"/><rect x="1.1778" y="-0.1050" width="0.1835" height="0.1300" fill="#fff"/></g>
<g transform="translate(1038.62 2418.5) scale(45.5567 35.6111)"><text x="0" y="0" font-family='"Liberation Sans", sans-serif' font-weight="normal" font-size="1" style="font-kerning:none">1</text><rect x="0.0562" y="-0.1050" width="0.1913" height="0.1300" fill="#fff"/><rect x="0.3438" y="-0.1050" width="0.1835" height="0.1300" fill="#fff"/></g>
<g transform="translate(1208.83 2418.16) scale(33.9798 34.6041)"><text x="0" y="0" font-family='"Liberation Sans", sans-serif' font-weight="normal" font-size="1" style="font-kerning:none">10</text><rect x="0.0562" y="-0.1050" width="0.1913" height="0.1300" fill="#fff"/><rect x="0.3438" y="-0.1050" width="0.1835" height="0.1300" fill="#fff"/></g>
<g transform="translate(628.54 2468.33) scale(37.4911 37.4468)"><text x="0" y="0" font-family='"Liberation Sans", sans-serif' font-weight="bold" font-size="1" style="font-kerning:none">time sec</text></g>
<g transform="translate(32.93 2241.59) rotate(-90) scale(36.2636 38.2638)"><text x="0" y="0" font-family='"Liberation Sans", sans-serif' font-weight="bold" font-size="1" style="font-kerning:none">normalized fluorescence</text></g>
<g transform="translate(13.53 1796.63) scale(43.1431 39.7528)"><text x="0" y="0" font-family='"Liberation Serif", serif' font-weight="bold" font-size="1" style="font-kerning:none">c</text></g>
<rect x="1253.5" y="2031.6" width="127.3" height="94.9" fill="#fff" stroke="#000" stroke-width="1.7"/>
<line x1="1264.4" y1="2058.6" x2="1326.8" y2="2058.6" stroke="#000" stroke-width="2.8" stroke-linecap="round"/>
<g fill="#000"><rect x="1286.95" y="2051.95" width="13.3" height="13.3"/></g>
<g transform="translate(1332.64 2065.02) scale(28.8725 28.4596)"><text x="0" y="0" font-family='"Liberation Sans", sans-serif' font-weight="normal" font-size="1" style="font-kerning:none">b-3</text></g>
<line x1="1264.4" y1="2105.9" x2="1326.8" y2="2105.9" stroke="#000" stroke-width="2.8" stroke-linecap="round"/>
<g fill="none" stroke="#000" stroke-width="3"><rect x="1288.45" y="2100.75" width="10.3" height="10.3"/></g>
<g transform="translate(1332.66 2111.73) scale(28.5595 28.0511)"><text x="0" y="0" font-family='"Liberation Sans", sans-serif' font-weight="normal" font-size="1" style="font-kerning:none">b-4</text></g>
</svg>
</body></html>
